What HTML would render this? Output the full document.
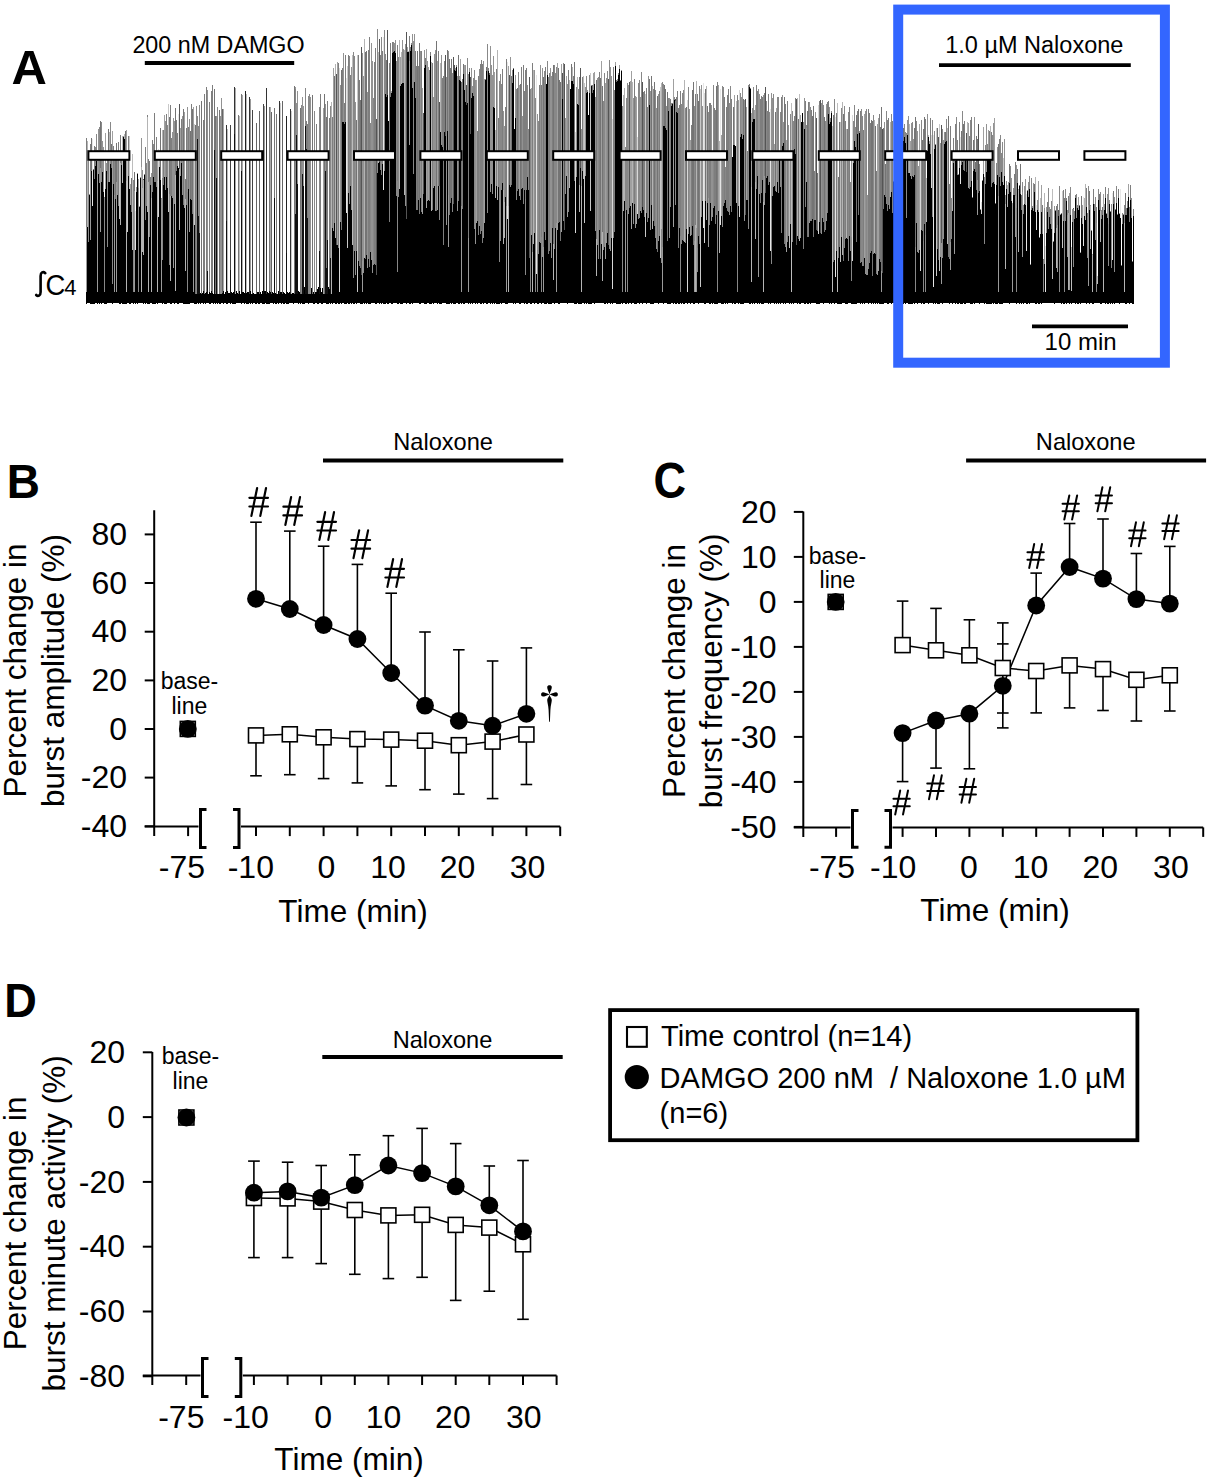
<!DOCTYPE html>
<html><head><meta charset="utf-8"><style>
html,body{margin:0;padding:0;background:#fff;}
svg{display:block;font-family:"Liberation Sans",sans-serif;}
</style></head><body>
<svg width="1210" height="1480" viewBox="0 0 1210 1480">
<rect width="1210" height="1480" fill="#fff"/>
<g shape-rendering="crispEdges"><path d="M223.5 109.4V294.0M235.5 87.6V294.0M242.5 95.3V294.0M270.5 107.3V294.0" stroke="#aaaaaa" stroke-width="1" fill="none"/><path d="M227.5 128.5V294.0M239.5 116.1V294.0M246.5 94.0V294.0" stroke="#bbbbbb" stroke-width="1" fill="none"/><path d="M250.5 99.4V294.0M264.5 106.1V294.0M295.5 87.3V294.0" stroke="#999999" stroke-width="1" fill="none"/><path d="M280.5 103.1V294.0M291.5 110.9V294.0" stroke="#cccccc" stroke-width="1" fill="none"/><path d="M86.5 137.7V227.2M90.5 143.9V171.0M94.5 146.3V178.5M104.5 197.2V198.2M107.5 154.1V173.9M113.5 145.6V183.9M118.5 142.3V206.3M120.5 135.1V163.2M121.5 154.6V164.7M128.5 135.9V175.9M144.5 173.5V174.5M145.5 146.5V220.2M147.5 115.1V117.1M148.5 158.9V181.9M149.5 160.8V180.8M150.5 177.1V185.3M152.5 140.2V192.4M154.5 113.0V181.5M155.5 152.4V181.7M156.5 136.6V187.4M163.5 130.1V184.5M166.5 114.2V177.0M170.5 104.6V196.2M171.5 137.6V196.4M176.5 119.6V170.8M177.5 132.7V165.8M181.5 119.2V163.4M185.5 179.1V198.6M186.5 128.0V204.6M188.5 126.9V189.2M191.5 104.2V200.1M203.5 119.6V294.0M204.5 94.0V294.0M206.5 86.8V294.0M209.5 101.6V294.0M211.5 90.5V294.0M212.5 85.3V294.0M306.5 121.2V149.3M307.5 123.5V217.6M316.5 123.8V294.0M320.5 93.6V294.0M327.5 101.0V240.1M329.5 117.5V294.0M332.5 117.0V227.8M338.5 63.2V247.6M342.5 68.2V122.4M344.5 102.5V123.5M345.5 54.5V122.0M348.5 54.6V192.8M350.5 74.7V186.2M358.5 55.1V260.5M359.5 79.7V266.2M368.5 49.8V259.3M369.5 36.5V266.7M374.5 62.2V263.7M375.5 47.5V265.0M380.5 54.7V169.5M382.5 51.3V163.9M389.5 63.0V222.3M390.5 42.6V96.9M392.5 41.7V53.1M397.5 44.5V180.9M409.5 36.2V61.3M410.5 47.2V50.9M415.5 50.6V97.5M416.5 66.4V209.9M418.5 65.6V199.8M421.5 51.2V212.1M425.5 58.4V65.3M429.5 69.8V201.3M430.5 52.2V56.3M432.5 63.4V209.8M438.5 50.9V186.3M442.5 77.9V146.5M443.5 75.5V244.8M444.5 61.1V131.9M462.5 78.5V209.4M468.5 73.9V238.4M477.5 131.0V221.1M478.5 75.9V234.6M480.5 64.3V234.0M481.5 59.9V230.7M482.5 63.8V242.5M488.5 67.8V71.1M496.5 68.9V186.3M498.5 117.5V187.0M502.5 68.5V182.7M505.5 107.4V197.3M506.5 59.1V206.2M521.5 67.3V188.7M523.5 65.2V203.7M524.5 90.8V190.2M525.5 69.8V199.3M526.5 68.1V190.4M532.5 63.2V252.2M539.5 85.0V242.4M541.5 84.6V237.2M545.5 67.2V239.9M548.5 76.7V254.1M549.5 73.3V251.3M552.5 71.6V227.9M568.5 70.2V187.3M573.5 76.2V84.3M582.5 77.2V171.3M599.5 71.7V230.0M613.5 67.0V237.5M614.5 89.7V232.2M620.5 79.5V81.1M634.5 78.6V204.0M643.5 92.3V209.9M644.5 91.1V216.8M646.5 87.8V212.7M647.5 106.7V221.5M659.5 90.6V236.1M670.5 98.9V207.3M672.5 103.2V104.2M676.5 97.1V112.0M677.5 90.9V112.5M678.5 107.7V248.2M679.5 104.7V227.8M680.5 90.5V235.5M691.5 124.6V234.6M695.5 94.1V225.1M697.5 93.9V247.6M699.5 85.7V243.6M709.5 103.1V224.8M710.5 103.3V203.4M714.5 107.5V206.4M715.5 109.7V223.7M717.5 82.3V217.4M724.5 97.3V203.3M726.5 107.4V207.8M727.5 95.4V210.7M728.5 88.6V211.9M731.5 99.1V212.0M737.5 95.2V219.3M747.5 151.1V199.8M749.5 83.9V87.1M750.5 88.1V89.1M756.5 85.4V189.1M757.5 91.1V175.7M760.5 98.9V202.8M761.5 96.4V192.6M762.5 96.7V180.1M764.5 92.8V175.5M767.5 110.9V175.6M768.5 94.2V184.5M781.5 96.7V233.1M785.5 104.0V246.8M787.5 101.1V242.4M794.5 116.0V149.4M795.5 98.4V153.7M803.5 121.6V248.5M805.5 100.9V207.2M808.5 101.5V237.3M811.5 109.8V220.7M814.5 170.8V220.3M819.5 100.8V221.8M827.5 102.1V212.8M828.5 101.0V114.3M830.5 117.8V121.6M836.5 113.4V250.5M845.5 120.5V239.1M847.5 128.5V239.1M849.5 107.3V236.3M857.5 110.5V133.9M860.5 111.3V263.2M863.5 129.6V265.8M868.5 109.0V269.3M869.5 113.1V263.1M870.5 122.7V253.3M876.5 170.5V273.9M879.5 113.9V259.2M887.5 120.4V210.5M888.5 118.3V205.0M892.5 120.5V213.4M893.5 180.6V181.6M896.5 164.1V168.8M897.5 116.9V180.4M898.5 138.3V169.2M901.5 134.4V155.8M923.5 128.5V240.6M925.5 118.6V235.4M930.5 118.3V154.1M949.5 183.5V258.6M950.5 125.5V241.7M953.5 137.8V163.0M955.5 124.1V160.5M957.5 139.7V174.6M959.5 121.7V168.0M964.5 120.7V171.4M965.5 152.2V153.2M969.5 135.5V188.6M971.5 116.7V181.2M972.5 196.6V197.6M979.5 164.2V190.9M989.5 131.4V160.0M991.5 132.1V187.1M999.5 138.9V177.1M1014.5 173.8V194.5M1015.5 162.4V196.4M1017.5 169.2V182.7M1027.5 190.3V191.3M1039.5 237.0V238.0M1042.5 204.6V233.8M1043.5 258.7V259.7M1050.5 208.5V223.6M1056.5 205.8V228.0M1057.5 204.0V224.7M1063.5 190.0V220.5M1064.5 198.0V216.6M1066.5 197.7V200.6M1068.5 195.6V213.3M1074.5 210.6V219.3M1075.5 194.8V197.8M1077.5 205.2V208.1M1079.5 205.4V206.4M1086.5 188.4V206.6M1087.5 212.5V216.6M1093.5 189.3V203.5M1094.5 204.4V211.2M1096.5 206.6V223.3M1105.5 186.8V198.2M1110.5 211.1V212.1M1115.5 208.7V209.7M1117.5 213.5V214.5M1118.5 189.1V198.0M1121.5 264.5V265.5M1126.5 208.1V214.7M1127.5 201.1V208.4M1129.5 206.7V221.8M1130.5 185.3V199.8M1132.5 260.8V261.8M1133.5 209.1V216.3" stroke="#7e7e7e" stroke-width="1" fill="none"/><path d="M86.5 227.2V292.0M90.5 171.0V239.7M97.5 159.5V292.0M100.5 167.9V232.1M114.5 195.0V292.0M116.5 181.7V292.0M134.5 190.5V292.0M161.5 199.2V292.0M173.5 196.3V267.5M189.5 190.9V231.9M193.5 212.1V292.0M362.5 260.6V291.5M409.5 61.3V144.9M448.5 195.2V247.4M461.5 206.1V292.0M468.5 238.4V292.0M506.5 206.2V292.0M543.5 247.1V292.0M556.5 223.3V292.0M567.5 172.6V216.5M625.5 213.1V292.0M662.5 247.4V292.0M694.5 240.7V292.0M696.5 228.2V292.0M708.5 197.7V247.0M758.5 184.2V277.3M764.5 175.5V204.5M806.5 128.3V182.3M881.5 270.8V292.0M901.5 155.8V202.2M941.5 243.1V284.2M950.5 241.7V270.3M954.5 154.2V253.5M977.5 180.3V214.9M998.5 195.8V292.0M1012.5 203.9V292.0M1015.5 196.4V236.9M1022.5 192.4V256.7M1057.5 224.7V272.4M1067.5 215.4V257.0M1069.5 212.5V289.7M1088.5 205.4V286.1" stroke="#9a9a9a" stroke-width="1" fill="none"/><path d="M86.5 292.0V303.9M87.5 226.8V303.3M88.5 241.7V303.3M89.5 195.4V303.3M90.5 239.7V303.9M91.5 170.5V303.8M92.5 206.3V303.6M93.5 169.6V303.6M94.5 178.5V303.6M95.5 165.6V303.4M96.5 161.1V302.8M97.5 292.0V303.7M98.5 174.0V303.3M99.5 183.2V303.9M100.5 232.1V302.9M101.5 182.0V303.9M102.5 172.4V303.4M103.5 191.6V303.1M104.5 292.0V303.6M105.5 188.6V303.7M106.5 171.4V303.5M107.5 246.6V302.8M108.5 182.3V303.1M109.5 182.1V303.4M110.5 163.8V303.3M111.5 167.7V303.1M112.5 283.6V303.7M113.5 183.9V303.3M114.5 292.0V303.3M115.5 198.6V303.4M116.5 292.0V303.1M117.5 195.2V303.4M118.5 206.3V302.9M119.5 219.0V303.7M120.5 225.1V303.7M121.5 164.7V303.4M122.5 183.1V304.0M123.5 136.9V303.9M124.5 138.9V303.7M125.5 156.0V303.5M126.5 292.0V304.0M127.5 231.9V302.8M128.5 175.9V303.2M129.5 189.0V303.7M130.5 204.7V303.6M131.5 211.5V302.8M132.5 250.2V303.2M133.5 292.0V303.6M134.5 292.0V303.4M135.5 249.9V303.9M136.5 191.8V303.1M137.5 173.8V303.5M138.5 292.0V303.2M139.5 206.5V303.2M140.5 177.8V303.4M141.5 292.0V303.4M142.5 251.6V303.2M143.5 254.6V303.7M144.5 174.5V302.9M145.5 220.2V303.7M146.5 206.0V303.2M147.5 212.1V303.9M148.5 292.0V303.6M149.5 237.1V303.7M150.5 185.3V302.9M151.5 292.0V303.3M152.5 192.4V303.7M153.5 177.2V303.9M154.5 181.5V303.5M155.5 181.7V303.8M156.5 187.4V303.4M157.5 292.0V303.5M158.5 216.7V303.1M159.5 167.2V303.4M160.5 179.6V303.2M161.5 292.0V303.2M162.5 259.7V304.0M163.5 184.5V303.3M164.5 176.7V303.9M165.5 189.8V303.5M166.5 177.0V303.8M167.5 188.3V303.4M168.5 211.6V303.1M169.5 264.9V302.9M170.5 281.0V303.5M171.5 196.4V303.9M172.5 198.4V303.2M173.5 267.5V302.9M174.5 203.5V303.7M175.5 291.0V302.9M176.5 170.8V303.1M177.5 165.8V303.9M178.5 167.6V303.5M179.5 229.9V303.3M180.5 175.9V303.3M181.5 163.4V303.3M182.5 195.2V302.8M183.5 205.2V303.9M184.5 207.9V303.7M185.5 271.2V304.0M186.5 204.6V303.9M187.5 292.0V303.8M188.5 189.2V303.6M189.5 231.9V303.5M190.5 198.8V303.2M191.5 200.1V302.9M192.5 214.0V302.8M193.5 292.0V303.3M194.5 225.0V303.9M195.5 291.7V304.0M196.5 293.1V303.5M197.5 292.1V303.4M198.5 293.7V303.8M199.5 293.8V303.1M200.5 292.5V303.9M201.5 291.0V303.1M202.5 293.4V302.8M203.5 291.2V303.9M204.5 293.6V303.4M205.5 293.4V303.7M206.5 292.0V302.9M207.5 292.3V303.3M208.5 293.7V302.8M209.5 292.3V303.6M210.5 292.7V303.8M211.5 291.0V303.3M212.5 292.7V303.4M213.5 293.6V303.7M214.5 292.2V303.3M215.5 293.3V303.8M216.5 294.0V303.2M217.5 291.8V303.7M218.5 293.9V303.4M219.5 291.2V303.8M220.5 293.5V303.6M221.5 294.0V303.0M222.5 291.3V302.9M223.5 291.2V303.7M224.5 293.8V303.2M225.5 292.0V303.2M226.5 293.4V303.8M227.5 291.3V303.8M228.5 292.8V303.3M229.5 292.9V303.0M230.5 291.4V303.5M231.5 291.8V303.3M232.5 293.1V303.7M233.5 292.1V303.9M234.5 292.1V303.9M235.5 293.8V303.9M236.5 291.4V303.1M237.5 293.4V302.9M238.5 293.9V302.9M239.5 291.3V303.1M240.5 293.7V303.1M241.5 291.2V303.9M242.5 291.7V302.9M243.5 291.7V303.3M244.5 292.6V303.7M245.5 291.5V303.3M246.5 293.1V303.5M247.5 292.4V303.7M248.5 291.7V303.9M249.5 293.5V303.0M250.5 291.2V303.7M251.5 293.5V302.9M252.5 292.9V303.5M253.5 292.8V302.9M254.5 293.7V302.9M255.5 293.9V303.8M256.5 291.2V303.8M257.5 292.2V303.2M258.5 292.2V304.0M259.5 293.5V303.5M260.5 291.7V303.3M261.5 293.6V303.4M262.5 291.3V303.7M263.5 293.0V303.7M264.5 291.1V303.7M265.5 291.1V302.8M266.5 292.7V303.8M267.5 292.1V303.9M268.5 293.4V303.5M269.5 292.2V303.5M270.5 291.8V302.9M271.5 292.0V302.9M272.5 292.1V303.3M273.5 293.3V303.8M274.5 291.9V303.2M275.5 293.2V303.5M276.5 291.3V303.6M277.5 294.0V303.0M278.5 291.3V303.9M279.5 291.8V303.4M280.5 292.1V303.0M281.5 292.4V303.5M282.5 291.8V303.3M283.5 292.1V303.7M284.5 292.9V303.9M285.5 293.8V302.9M286.5 292.4V303.7M287.5 291.6V303.5M288.5 293.4V303.8M289.5 291.7V303.0M290.5 293.1V303.3M291.5 293.6V303.0M292.5 292.9V303.0M293.5 293.2V303.5M294.5 292.5V303.3M295.5 293.0V302.9M296.5 293.1V303.3M297.5 292.4V303.3M298.5 291.1V303.9M299.5 292.4V303.2M300.5 292.0V303.9M301.5 286.6V303.2M302.5 289.0V303.6M303.5 291.9V303.9M304.5 287.1V303.9M305.5 290.0V303.1M306.5 289.9V303.4M307.5 290.8V303.1M308.5 288.6V303.5M309.5 289.0V303.3M310.5 291.8V303.2M311.5 288.0V303.0M312.5 290.1V303.1M313.5 291.8V304.0M314.5 287.4V303.5M315.5 291.6V303.2M316.5 291.5V303.4M317.5 289.4V304.0M318.5 286.8V303.7M319.5 289.8V303.1M320.5 288.0V302.9M321.5 291.8V303.9M322.5 288.3V303.5M323.5 286.3V303.1M324.5 287.2V303.4M325.5 288.1V303.0M326.5 286.1V303.7M327.5 290.4V303.8M328.5 287.3V303.7M329.5 288.7V303.1M330.5 286.1V303.6M331.5 289.7V303.4M332.5 227.8V303.8M333.5 230.8V302.9M334.5 222.5V303.3M335.5 237.6V303.9M336.5 245.3V304.0M337.5 245.4V302.9M338.5 247.6V303.6M339.5 292.0V303.9M340.5 221.7V303.2M341.5 229.7V303.8M342.5 122.4V303.0M343.5 122.1V302.9M344.5 123.5V303.7M345.5 122.0V303.5M346.5 212.5V303.8M347.5 248.0V303.0M348.5 192.8V303.5M349.5 204.2V303.5M350.5 186.2V303.0M351.5 209.9V303.8M352.5 244.7V302.9M353.5 278.4V303.8M354.5 251.1V303.6M355.5 274.9V303.3M356.5 250.8V303.9M357.5 292.0V303.0M358.5 260.5V303.4M359.5 266.2V303.4M360.5 267.9V303.9M361.5 275.3V303.5M362.5 291.5V303.9M363.5 273.3V302.9M364.5 258.2V303.7M365.5 259.2V302.9M366.5 254.5V303.5M367.5 268.3V303.1M368.5 259.3V303.5M369.5 266.7V303.6M370.5 251.9V303.9M371.5 260.1V303.0M372.5 272.8V302.9M373.5 264.9V303.1M374.5 263.7V303.3M375.5 265.0V303.8M376.5 275.3V303.5M377.5 172.6V303.4M378.5 162.8V303.4M379.5 162.2V303.5M380.5 169.5V303.0M381.5 174.7V303.7M382.5 163.9V303.2M383.5 189.6V303.9M384.5 171.1V303.8M385.5 93.5V303.5M386.5 96.8V303.0M387.5 95.0V303.5M388.5 121.1V303.6M389.5 222.3V303.1M390.5 96.9V302.8M391.5 93.3V303.7M392.5 53.1V303.8M393.5 51.6V303.0M394.5 50.7V303.3M395.5 53.4V302.9M396.5 196.0V303.1M397.5 271.9V303.8M398.5 196.9V303.9M399.5 188.5V302.9M400.5 86.1V304.0M401.5 84.4V303.9M402.5 83.3V303.5M403.5 82.9V303.3M404.5 194.9V303.3M405.5 206.3V303.2M406.5 218.8V303.7M407.5 52.1V303.4M408.5 52.3V303.3M409.5 144.9V303.8M410.5 50.9V303.8M411.5 45.4V303.0M412.5 87.6V303.9M413.5 173.9V303.3M414.5 82.2V302.9M415.5 97.5V303.2M416.5 209.9V303.0M417.5 209.9V303.2M418.5 199.8V303.3M419.5 214.1V303.8M420.5 197.8V303.5M421.5 212.1V303.3M422.5 214.1V302.8M423.5 193.9V303.2M424.5 67.6V303.8M425.5 65.3V303.5M426.5 207.5V303.8M427.5 201.2V303.3M428.5 200.1V303.2M429.5 201.3V303.9M430.5 56.3V303.6M431.5 211.2V303.8M432.5 209.8V302.9M433.5 188.4V303.8M434.5 185.6V303.3M435.5 211.3V302.9M436.5 211.2V303.0M437.5 210.4V303.9M438.5 186.3V303.3M439.5 220.2V303.8M440.5 131.8V303.9M441.5 144.9V303.9M442.5 146.5V303.2M443.5 244.8V303.2M444.5 131.9V303.2M445.5 136.1V303.1M446.5 224.6V304.0M447.5 131.0V303.9M448.5 247.4V303.7M449.5 215.4V303.9M450.5 202.7V303.3M451.5 197.8V303.9M452.5 211.6V303.1M453.5 204.3V303.7M454.5 69.8V303.8M455.5 70.6V303.9M456.5 66.5V303.1M457.5 210.9V303.0M458.5 201.4V304.0M459.5 79.5V304.0M460.5 80.5V302.8M461.5 292.0V303.8M462.5 209.4V303.0M463.5 74.2V303.8M464.5 90.4V304.0M465.5 102.2V303.1M466.5 104.5V303.4M467.5 102.6V302.8M468.5 292.0V303.7M469.5 72.2V303.3M470.5 134.4V303.5M471.5 98.0V303.1M472.5 92.6V304.0M473.5 96.2V303.2M474.5 229.1V303.0M475.5 244.3V303.9M476.5 222.9V303.3M477.5 221.1V303.8M478.5 234.6V303.0M479.5 225.9V303.2M480.5 234.0V304.0M481.5 230.7V304.0M482.5 242.5V303.4M483.5 238.4V303.9M484.5 222.7V303.3M485.5 79.9V302.9M486.5 70.7V303.8M487.5 213.2V303.9M488.5 71.1V303.3M489.5 74.5V303.4M490.5 191.8V303.7M491.5 184.0V303.2M492.5 193.7V304.0M493.5 106.6V303.0M494.5 107.5V303.9M495.5 197.9V303.0M496.5 186.3V303.8M497.5 199.8V303.8M498.5 187.0V303.8M499.5 262.0V303.7M500.5 240.7V302.9M501.5 190.4V303.9M502.5 182.7V303.0M503.5 243.6V303.4M504.5 237.8V303.4M505.5 197.3V303.8M506.5 292.0V303.8M507.5 219.1V303.8M508.5 292.0V303.0M509.5 185.1V303.3M510.5 186.5V303.0M511.5 185.2V303.3M512.5 82.8V303.0M513.5 69.3V303.6M514.5 129.4V303.1M515.5 118.4V303.8M516.5 200.0V303.0M517.5 191.0V303.1M518.5 188.7V303.2M519.5 195.5V303.9M520.5 200.1V304.0M521.5 188.7V303.0M522.5 188.3V303.2M523.5 203.7V303.3M524.5 190.2V303.8M525.5 274.5V303.2M526.5 190.4V303.6M527.5 176.8V304.0M528.5 190.4V302.9M529.5 257.5V303.3M530.5 292.0V303.5M531.5 234.9V303.6M532.5 292.0V303.1M533.5 244.2V303.2M534.5 233.4V303.5M535.5 292.0V302.9M536.5 274.4V302.9M537.5 292.0V303.8M538.5 253.7V303.6M539.5 242.4V303.2M540.5 243.0V303.2M541.5 292.0V303.5M542.5 256.9V303.4M543.5 292.0V303.0M544.5 231.8V304.0M545.5 239.9V303.7M546.5 84.2V303.5M547.5 74.9V303.4M548.5 254.1V303.9M549.5 251.3V303.5M550.5 243.2V303.7M551.5 258.4V303.9M552.5 227.9V302.8M553.5 279.5V303.4M554.5 249.3V303.5M555.5 228.3V303.1M556.5 292.0V303.4M557.5 229.7V303.2M558.5 223.1V303.5M559.5 222.0V303.5M560.5 240.8V303.3M561.5 231.8V303.1M562.5 98.7V303.1M563.5 221.2V303.1M564.5 229.7V302.9M565.5 193.8V303.3M566.5 175.6V303.2M567.5 216.5V303.9M568.5 211.6V303.2M569.5 188.3V303.0M570.5 89.4V303.0M571.5 81.3V303.1M572.5 80.7V303.2M573.5 84.3V303.0M574.5 180.7V303.7M575.5 233.0V303.8M576.5 177.2V303.9M577.5 104.3V303.3M578.5 105.3V303.6M579.5 211.5V303.6M580.5 168.4V303.7M581.5 292.0V303.6M582.5 171.3V303.0M583.5 178.7V302.8M584.5 223.1V303.6M585.5 176.1V302.9M586.5 93.0V303.6M587.5 92.0V303.0M588.5 115.4V303.9M589.5 93.1V303.9M590.5 210.7V303.7M591.5 86.4V303.9M592.5 93.1V303.1M593.5 89.6V303.2M594.5 84.3V303.9M595.5 230.5V303.0M596.5 275.9V302.9M597.5 244.8V303.0M598.5 258.8V303.2M599.5 230.0V303.3M600.5 258.8V303.3M601.5 243.6V303.0M602.5 280.5V303.1M603.5 249.9V303.4M604.5 246.7V303.5M605.5 258.7V303.9M606.5 243.3V302.9M607.5 232.7V303.8M608.5 244.8V302.9M609.5 249.4V303.3M610.5 250.8V303.9M611.5 237.5V303.0M612.5 288.7V303.5M613.5 237.5V303.1M614.5 232.2V303.0M615.5 66.0V303.4M616.5 81.8V303.9M617.5 81.3V304.0M618.5 75.0V304.0M619.5 68.7V303.9M620.5 81.1V303.6M621.5 70.8V303.0M622.5 292.0V303.7M623.5 211.2V303.3M624.5 201.1V303.4M625.5 292.0V304.0M626.5 209.5V303.7M627.5 292.0V302.9M628.5 214.0V303.8M629.5 207.7V303.0M630.5 205.6V303.3M631.5 228.6V303.7M632.5 203.3V303.2M633.5 224.1V303.0M634.5 204.0V303.6M635.5 228.1V303.9M636.5 223.5V303.6M637.5 214.0V303.4M638.5 219.0V303.1M639.5 217.6V303.5M640.5 210.9V302.9M641.5 212.9V303.1M642.5 206.6V303.5M643.5 209.9V303.4M644.5 216.8V303.3M645.5 236.9V302.9M646.5 212.7V303.5M647.5 221.5V303.4M648.5 217.6V303.1M649.5 104.6V303.0M650.5 229.9V303.8M651.5 204.9V303.6M652.5 229.2V303.8M653.5 221.0V303.5M654.5 225.9V303.1M655.5 238.0V303.1M656.5 248.7V302.9M657.5 251.9V303.4M658.5 241.0V303.6M659.5 236.1V303.4M660.5 258.3V303.1M661.5 263.1V302.9M662.5 292.0V303.3M663.5 125.7V303.9M664.5 125.9V303.0M665.5 127.6V303.2M666.5 129.5V303.2M667.5 241.4V304.0M668.5 110.7V303.8M669.5 238.0V303.5M670.5 207.3V303.7M671.5 106.2V302.9M672.5 104.2V303.2M673.5 227.3V303.9M674.5 100.2V303.4M675.5 205.0V303.6M676.5 112.0V303.5M677.5 112.5V303.3M678.5 248.2V303.7M679.5 227.8V303.9M680.5 292.0V303.4M681.5 243.5V303.8M682.5 239.6V302.9M683.5 240.5V303.6M684.5 241.9V303.6M685.5 243.1V302.8M686.5 229.2V303.2M687.5 292.0V303.9M688.5 233.5V303.3M689.5 226.6V303.2M690.5 235.7V303.5M691.5 234.6V302.9M692.5 226.3V303.3M693.5 244.8V304.0M694.5 292.0V303.5M695.5 292.0V303.1M696.5 292.0V303.3M697.5 272.3V303.1M698.5 236.0V304.0M699.5 243.6V303.2M700.5 287.1V302.9M701.5 217.1V302.9M702.5 200.8V302.8M703.5 227.5V303.2M704.5 242.8V303.5M705.5 200.5V303.8M706.5 219.5V302.9M707.5 203.1V303.3M708.5 247.0V303.1M709.5 224.8V303.5M710.5 203.4V303.6M711.5 220.5V303.2M712.5 217.1V303.6M713.5 208.1V302.9M714.5 206.4V303.7M715.5 223.7V303.6M716.5 214.9V303.5M717.5 292.0V303.7M718.5 211.1V303.3M719.5 253.0V302.8M720.5 224.5V303.1M721.5 215.7V303.5M722.5 226.8V304.0M723.5 205.7V303.8M724.5 203.3V303.3M725.5 200.4V303.6M726.5 207.8V303.2M727.5 210.7V304.0M728.5 211.9V303.2M729.5 215.4V303.3M730.5 206.3V303.1M731.5 212.0V302.8M732.5 157.3V303.7M733.5 144.7V302.9M734.5 144.8V303.8M735.5 145.8V303.9M736.5 203.4V302.8M737.5 292.0V303.4M738.5 206.3V303.7M739.5 217.2V302.9M740.5 137.1V303.8M741.5 133.8V303.5M742.5 138.5V303.7M743.5 134.9V303.7M744.5 221.2V303.3M745.5 215.2V303.4M746.5 199.7V303.2M747.5 199.8V303.4M748.5 229.1V302.8M749.5 87.1V303.7M750.5 89.1V304.0M751.5 282.4V303.2M752.5 122.2V303.6M753.5 119.2V303.1M754.5 119.0V303.5M755.5 239.2V302.8M756.5 189.1V303.1M757.5 175.7V303.6M758.5 277.3V302.8M759.5 193.5V303.9M760.5 202.8V303.1M761.5 192.6V303.8M762.5 180.1V303.9M763.5 292.0V303.6M764.5 204.5V303.3M765.5 192.6V302.8M766.5 178.4V303.0M767.5 175.6V303.2M768.5 184.5V303.7M769.5 182.2V303.0M770.5 251.1V303.8M771.5 264.0V303.4M772.5 195.6V302.8M773.5 186.7V303.3M774.5 185.8V303.6M775.5 191.4V303.4M776.5 191.5V303.7M777.5 181.6V303.1M778.5 192.8V303.9M779.5 156.1V303.2M780.5 187.0V303.8M781.5 233.1V303.2M782.5 145.9V303.2M783.5 143.1V303.6M784.5 243.5V303.4M785.5 246.8V303.8M786.5 251.6V303.3M787.5 242.4V302.8M788.5 235.7V303.0M789.5 247.8V303.9M790.5 223.7V303.0M791.5 292.0V303.7M792.5 241.5V303.3M793.5 152.9V303.8M794.5 149.4V303.2M795.5 153.7V302.9M796.5 245.4V303.3M797.5 236.2V303.5M798.5 238.8V303.0M799.5 240.8V303.6M800.5 238.2V303.7M801.5 122.2V303.1M802.5 113.0V303.0M803.5 248.5V303.3M804.5 128.5V303.6M805.5 207.2V303.8M806.5 182.3V303.3M807.5 236.5V303.6M808.5 237.3V303.9M809.5 222.9V303.4M810.5 221.3V303.9M811.5 220.7V303.1M812.5 218.6V303.0M813.5 237.2V303.1M814.5 220.3V303.2M815.5 220.3V302.9M816.5 229.8V303.5M817.5 230.8V303.9M818.5 233.6V303.8M819.5 221.8V303.9M820.5 232.8V303.4M821.5 233.8V303.1M822.5 218.1V303.3M823.5 222.2V303.7M824.5 231.9V303.3M825.5 230.4V303.3M826.5 220.8V303.2M827.5 212.8V302.8M828.5 114.3V302.8M829.5 123.8V303.6M830.5 121.6V303.1M831.5 113.3V303.9M832.5 292.0V303.1M833.5 261.6V302.9M834.5 260.0V303.8M835.5 277.3V303.4M836.5 250.5V303.3M837.5 292.0V303.8M838.5 257.5V303.9M839.5 247.3V303.5M840.5 262.0V303.8M841.5 236.9V303.9M842.5 254.8V303.3M843.5 260.9V303.2M844.5 248.0V303.4M845.5 239.1V303.5M846.5 237.6V303.9M847.5 239.1V303.9M848.5 261.3V303.2M849.5 236.3V302.9M850.5 250.6V303.2M851.5 280.6V303.6M852.5 261.4V303.5M853.5 162.7V303.6M854.5 141.0V303.7M855.5 146.7V303.9M856.5 242.0V303.5M857.5 133.9V303.0M858.5 214.7V303.3M859.5 133.1V303.3M860.5 263.2V303.8M861.5 262.1V302.9M862.5 265.8V303.8M863.5 265.8V303.2M864.5 257.8V303.6M865.5 273.7V303.2M866.5 274.7V302.8M867.5 275.4V302.9M868.5 269.3V303.9M869.5 263.1V303.2M870.5 253.3V303.4M871.5 251.3V303.8M872.5 275.5V303.0M873.5 254.0V303.5M874.5 252.6V302.9M875.5 253.5V303.6M876.5 273.9V303.1M877.5 275.0V303.6M878.5 270.8V303.3M879.5 259.2V304.0M880.5 262.3V303.9M881.5 292.0V303.5M882.5 272.8V304.0M883.5 208.5V303.8M884.5 194.9V303.2M885.5 196.9V302.9M886.5 204.4V302.9M887.5 210.5V303.5M888.5 205.0V303.6M889.5 208.6V303.3M890.5 197.0V303.2M891.5 191.9V303.6M892.5 213.4V303.0M893.5 181.6V303.4M894.5 164.9V303.2M895.5 172.3V304.0M896.5 168.8V303.7M897.5 180.4V303.1M898.5 169.2V303.3M899.5 156.7V303.5M900.5 179.7V303.3M901.5 202.2V303.3M902.5 199.1V303.6M903.5 140.9V303.5M904.5 137.2V303.2M905.5 142.9V303.7M906.5 217.6V303.0M907.5 134.5V303.2M908.5 172.7V303.6M909.5 173.1V303.8M910.5 176.4V303.9M911.5 178.7V303.6M912.5 176.4V303.8M913.5 177.1V303.0M914.5 175.0V303.5M915.5 292.0V303.4M916.5 223.1V303.0M917.5 251.9V303.6M918.5 252.9V303.1M919.5 249.6V303.3M920.5 270.6V303.3M921.5 229.8V303.8M922.5 230.9V303.4M923.5 292.0V303.8M924.5 223.6V303.5M925.5 292.0V303.3M926.5 221.8V302.8M927.5 151.2V303.3M928.5 137.3V303.7M929.5 143.5V303.2M930.5 154.1V303.4M931.5 188.1V302.8M932.5 216.8V302.8M933.5 287.3V303.7M934.5 149.2V303.1M935.5 144.9V304.0M936.5 275.9V302.8M937.5 248.8V303.8M938.5 259.6V303.7M939.5 270.6V304.0M940.5 257.4V302.9M941.5 284.2V302.8M942.5 258.0V303.9M943.5 238.8V303.4M944.5 143.7V303.4M945.5 141.7V303.0M946.5 141.2V303.4M947.5 244.3V302.8M948.5 257.3V302.8M949.5 258.6V304.0M950.5 270.3V303.1M951.5 238.8V303.0M952.5 211.1V303.9M953.5 163.0V303.3M954.5 253.5V303.3M955.5 160.5V303.9M956.5 155.7V303.3M957.5 174.6V303.6M958.5 174.6V303.7M959.5 168.0V303.0M960.5 184.2V303.5M961.5 165.4V303.7M962.5 161.6V303.7M963.5 169.5V303.3M964.5 171.4V303.5M965.5 153.2V303.9M966.5 172.4V302.8M967.5 155.8V303.1M968.5 187.6V302.9M969.5 188.6V302.8M970.5 186.9V303.6M971.5 181.2V303.5M972.5 197.6V303.6M973.5 171.2V303.2M974.5 168.9V303.5M975.5 172.3V302.8M976.5 190.4V303.3M977.5 214.9V303.4M978.5 193.1V303.4M979.5 190.9V303.9M980.5 209.9V303.0M981.5 214.1V303.1M982.5 180.8V303.0M983.5 173.6V303.1M984.5 244.1V303.9M985.5 184.0V302.9M986.5 172.4V303.9M987.5 159.6V303.9M988.5 159.3V303.9M989.5 160.0V303.6M990.5 160.1V303.7M991.5 187.1V303.6M992.5 182.5V303.1M993.5 181.9V303.9M994.5 184.3V302.9M995.5 204.2V303.9M996.5 184.7V303.8M997.5 175.1V303.8M998.5 292.0V303.3M999.5 177.1V303.7M1000.5 185.9V303.5M1001.5 172.3V303.7M1002.5 182.4V304.0M1003.5 184.9V302.8M1004.5 176.3V302.8M1005.5 269.3V303.2M1006.5 188.9V303.0M1007.5 207.2V303.0M1008.5 193.6V303.4M1009.5 182.9V303.7M1010.5 192.3V303.4M1011.5 200.7V303.1M1012.5 292.0V303.4M1013.5 195.4V303.0M1014.5 194.5V303.4M1015.5 236.9V302.9M1016.5 292.0V303.7M1017.5 182.7V303.3M1018.5 252.0V302.8M1019.5 185.9V303.7M1020.5 194.3V303.1M1021.5 210.2V303.9M1022.5 256.7V303.4M1023.5 213.5V303.8M1024.5 204.4V303.0M1025.5 205.0V303.1M1026.5 251.4V303.6M1027.5 191.3V303.7M1028.5 196.9V303.3M1029.5 189.4V303.7M1030.5 265.2V302.9M1031.5 210.1V303.0M1032.5 208.0V303.4M1033.5 211.4V303.3M1034.5 192.2V303.0M1035.5 212.0V303.5M1036.5 230.3V303.9M1037.5 209.6V302.9M1038.5 211.7V303.5M1039.5 238.0V303.6M1040.5 234.0V303.3M1041.5 211.6V303.9M1042.5 233.8V303.1M1043.5 292.0V302.9M1044.5 264.4V302.8M1045.5 292.0V303.3M1046.5 232.7V302.9M1047.5 212.1V303.4M1048.5 229.3V303.0M1049.5 217.0V303.2M1050.5 223.6V303.1M1051.5 229.2V303.0M1052.5 279.1V303.4M1053.5 241.5V302.8M1054.5 232.7V303.5M1055.5 211.3V303.4M1056.5 268.1V302.9M1057.5 272.4V303.1M1058.5 215.9V303.3M1059.5 292.0V303.1M1060.5 214.6V303.0M1061.5 213.8V303.6M1062.5 247.9V303.1M1063.5 220.5V304.0M1064.5 292.0V303.5M1065.5 221.4V303.1M1066.5 200.6V304.0M1067.5 257.0V303.1M1068.5 290.3V303.0M1069.5 289.7V303.8M1070.5 215.0V303.2M1071.5 291.4V303.9M1072.5 222.2V303.4M1073.5 267.3V303.2M1074.5 219.3V303.4M1075.5 197.8V303.9M1076.5 218.3V302.8M1077.5 208.1V303.9M1078.5 210.2V303.5M1079.5 206.4V303.1M1080.5 253.1V303.5M1081.5 218.3V303.3M1082.5 224.1V303.2M1083.5 245.6V302.9M1084.5 216.3V303.4M1085.5 219.7V303.1M1086.5 206.6V303.6M1087.5 257.9V303.4M1088.5 286.1V303.3M1089.5 210.4V303.6M1090.5 248.9V303.4M1091.5 231.2V302.9M1092.5 292.0V303.6M1093.5 203.5V303.9M1094.5 211.2V303.1M1095.5 240.0V302.9M1096.5 292.0V302.9M1097.5 283.7V303.3M1098.5 199.9V302.9M1099.5 210.1V303.4M1100.5 242.2V303.7M1101.5 218.5V303.6M1102.5 215.3V303.1M1103.5 292.0V302.8M1104.5 209.6V302.9M1105.5 198.2V303.8M1106.5 214.1V303.3M1107.5 217.6V303.8M1108.5 265.7V303.9M1109.5 204.3V303.2M1110.5 212.1V303.5M1111.5 267.6V303.0M1112.5 260.1V303.8M1113.5 203.7V303.2M1114.5 272.4V304.0M1115.5 209.7V303.2M1116.5 202.5V302.9M1117.5 214.5V302.9M1118.5 198.0V302.8M1119.5 214.3V303.8M1120.5 218.2V303.1M1121.5 265.5V303.0M1122.5 223.9V303.1M1123.5 214.5V303.1M1124.5 292.0V303.1M1125.5 215.2V303.6M1126.5 214.7V303.6M1127.5 208.4V303.0M1128.5 197.2V303.3M1129.5 221.8V303.5M1130.5 199.8V303.3M1131.5 218.1V303.1M1132.5 261.8V303.8M1133.5 216.3V304.0" stroke="#000" stroke-width="1" fill="none"/><path d="M87.5 140.5V226.8M109.5 132.0V182.1M120.5 163.2V225.1M124.5 133.8V138.9M126.5 181.0V292.0M141.5 167.2V292.0M142.5 188.0V251.6M143.5 179.8V254.6M147.5 117.1V212.1M148.5 181.9V292.0M151.5 198.2V292.0M157.5 180.9V292.0M159.5 160.1V167.2M162.5 129.8V178.0M170.5 196.2V281.0M175.5 175.0V291.0M179.5 168.6V229.9M185.5 198.6V271.2M331.5 101.7V294.0M335.5 63.8V237.6M364.5 39.4V258.2M378.5 51.5V162.8M399.5 40.3V188.5M401.5 52.1V84.4M404.5 49.9V194.9M408.5 51.3V52.3M431.5 62.2V211.2M440.5 62.9V131.8M495.5 130.1V197.9M497.5 49.8V199.8M503.5 190.3V243.6M504.5 201.7V237.8M508.5 206.1V292.0M532.5 252.2V292.0M533.5 69.8V244.2M553.5 244.1V279.5M569.5 80.0V188.3M572.5 66.8V80.7M577.5 77.4V104.3M579.5 184.7V211.5M581.5 185.7V292.0M596.5 239.4V275.9M602.5 231.5V280.5M623.5 94.5V211.2M624.5 88.1V201.1M632.5 82.0V203.3M652.5 86.1V229.2M661.5 83.2V228.7M684.5 79.9V241.9M695.5 225.1V292.0M696.5 81.2V228.2M706.5 86.1V219.5M719.5 140.5V210.2M719.5 210.2V253.0M736.5 100.7V203.4M751.5 187.4V282.4M755.5 182.4V239.2M763.5 202.3V292.0M797.5 98.3V236.2M842.5 101.8V254.8M846.5 129.3V237.6M874.5 119.5V252.6M890.5 121.9V197.0M909.5 123.8V173.1M926.5 177.5V221.8M928.5 135.1V137.3M947.5 128.1V244.3M952.5 157.8V211.1M967.5 122.4V155.8M990.5 126.4V160.1M1005.5 203.8V269.3M1007.5 184.9V207.2M1018.5 190.3V252.0M1035.5 177.0V212.0M1044.5 192.5V208.4M1056.5 228.0V268.1M1068.5 213.3V290.3M1084.5 198.3V216.3M1085.5 184.1V219.7M1090.5 206.0V248.9M1092.5 254.8V292.0M1100.5 211.0V242.2M1103.5 203.6V292.0M1124.5 222.6V292.0" stroke="#b4b4b4" stroke-width="1" fill="none"/><path d="M88.5 160.9V241.7M95.5 147.3V165.6M96.5 134.0V161.1M99.5 127.0V183.2M101.5 122.1V182.0M104.5 198.2V292.0M107.5 173.9V246.6M110.5 121.6V163.8M112.5 209.6V283.6M114.5 155.1V195.0M133.5 179.5V198.8M133.5 198.8V292.0M136.5 186.7V191.8M138.5 187.6V292.0M146.5 163.4V206.0M149.5 180.8V237.1M153.5 143.7V177.2M161.5 198.2V199.2M162.5 178.0V259.7M167.5 125.0V188.3M169.5 194.4V264.9M187.5 192.2V292.0M196.5 105.8V294.0M197.5 115.6V139.3M198.5 126.4V216.3M199.5 104.9V232.5M217.5 107.2V294.0M295.5 89.0V213.5M301.5 105.4V294.0M305.5 88.1V125.7M308.5 96.0V294.0M309.5 93.5V294.0M314.5 110.5V294.0M319.5 107.1V251.3M330.5 106.1V258.4M349.5 55.9V204.2M353.5 51.6V278.4M354.5 56.0V251.1M370.5 122.7V251.9M373.5 98.1V264.9M377.5 28.5V172.6M381.5 36.9V174.7M384.5 29.8V171.1M385.5 54.1V93.5M393.5 41.9V51.6M396.5 60.9V196.0M397.5 180.9V271.9M398.5 56.5V196.9M411.5 42.7V45.4M413.5 82.2V173.9M439.5 185.6V220.2M452.5 73.4V211.6M456.5 65.3V66.5M467.5 58.1V102.6M473.5 77.5V96.2M474.5 69.7V229.1M479.5 68.8V225.9M485.5 78.9V79.9M487.5 44.3V213.2M499.5 81.4V204.0M499.5 204.0V262.0M500.5 73.6V185.5M500.5 185.5V240.7M501.5 83.9V190.4M512.5 69.5V82.8M516.5 88.9V200.0M518.5 71.6V188.7M525.5 199.3V274.5M527.5 85.3V176.8M528.5 129.1V190.4M530.5 88.5V230.8M530.5 230.8V292.0M535.5 97.7V249.8M535.5 249.8V292.0M537.5 250.3V292.0M538.5 120.9V253.7M541.5 237.2V292.0M544.5 71.3V231.8M547.5 60.9V74.9M554.5 64.5V249.3M555.5 72.6V228.3M556.5 66.8V223.3M563.5 63.3V221.2M568.5 187.3V211.6M578.5 89.4V105.3M586.5 76.0V93.0M589.5 74.5V93.1M591.5 85.4V86.4M598.5 77.1V258.8M603.5 101.1V249.9M604.5 72.9V246.7M607.5 71.0V232.7M609.5 60.4V249.4M617.5 78.8V81.3M622.5 105.6V219.8M622.5 219.8V292.0M625.5 147.1V213.1M626.5 98.3V209.5M627.5 82.6V226.7M627.5 226.7V292.0M638.5 83.1V219.0M639.5 80.3V217.6M641.5 72.0V212.9M653.5 88.8V221.0M655.5 89.6V238.0M661.5 228.7V263.1M662.5 81.7V247.4M663.5 83.6V125.7M668.5 98.0V110.7M671.5 103.0V106.2M674.5 97.0V100.2M675.5 101.4V205.0M680.5 235.5V292.0M681.5 103.7V243.5M682.5 93.1V239.6M683.5 90.0V240.5M685.5 107.5V243.1M688.5 87.4V233.5M694.5 105.9V240.7M697.5 247.6V272.3M708.5 111.7V197.7M713.5 85.3V208.1M717.5 217.4V292.0M722.5 85.6V226.8M723.5 86.7V205.7M725.5 166.7V200.4M729.5 102.8V215.4M730.5 86.0V206.3M737.5 219.3V292.0M740.5 93.0V137.1M748.5 85.0V229.1M752.5 108.4V122.2M753.5 87.2V119.2M766.5 101.3V178.4M769.5 112.4V182.2M771.5 196.4V264.0M773.5 93.6V186.7M777.5 96.5V181.6M778.5 96.8V192.8M780.5 111.6V187.0M790.5 113.8V223.7M792.5 111.3V241.5M793.5 121.4V152.9M806.5 124.8V128.3M810.5 106.8V221.3M822.5 100.0V218.1M823.5 104.9V222.2M825.5 120.6V230.4M831.5 110.8V113.3M834.5 99.0V260.0M841.5 108.3V236.9M844.5 106.1V248.0M848.5 111.8V261.3M850.5 182.3V250.6M851.5 236.6V280.6M853.5 120.8V162.7M854.5 104.8V141.0M855.5 126.9V146.7M859.5 130.6V133.1M861.5 109.4V262.1M862.5 115.8V265.8M866.5 108.6V274.7M873.5 115.3V254.0M886.5 111.0V204.4M891.5 114.2V191.9M904.5 123.5V137.2M905.5 132.3V142.9M906.5 132.9V217.6M912.5 122.3V176.4M915.5 246.8V292.0M916.5 121.0V223.1M921.5 120.2V229.8M923.5 240.6V292.0M925.5 235.4V292.0M932.5 119.7V216.8M934.5 131.1V149.2M935.5 143.7V144.9M942.5 129.2V258.0M946.5 118.9V141.2M951.5 197.8V238.8M952.5 156.8V157.8M956.5 117.2V155.7M958.5 173.6V174.6M962.5 110.9V161.6M970.5 119.6V186.9M980.5 208.9V209.9M982.5 179.8V180.8M984.5 176.8V177.8M984.5 177.8V244.1M985.5 144.5V184.0M987.5 144.1V159.6M992.5 134.5V182.5M996.5 162.5V184.7M1000.5 134.8V185.9M1001.5 152.7V172.3M1002.5 141.6V182.4M1005.5 194.5V203.8M1006.5 180.5V188.9M1010.5 166.0V192.3M1013.5 187.7V195.4M1016.5 207.5V292.0M1022.5 181.8V192.4M1023.5 205.0V213.5M1029.5 176.3V189.4M1031.5 178.1V210.1M1032.5 205.8V208.0M1043.5 259.7V292.0M1044.5 208.4V264.4M1048.5 187.6V229.3M1049.5 206.5V217.0M1051.5 200.5V229.2M1053.5 240.5V241.5M1055.5 210.3V211.3M1059.5 185.5V224.4M1059.5 224.4V292.0M1064.5 216.6V292.0M1065.5 188.9V221.4M1067.5 209.7V215.4M1070.5 186.7V215.0M1073.5 209.2V267.3M1076.5 193.5V218.3M1087.5 216.6V257.9M1088.5 185.9V205.4M1091.5 230.2V231.2M1095.5 196.6V206.6M1095.5 206.6V240.0M1096.5 223.3V292.0M1098.5 188.6V199.9M1100.5 191.6V211.0M1101.5 210.3V218.5M1108.5 223.6V265.7M1111.5 203.6V209.1M1111.5 209.1V267.6M1114.5 203.3V272.4M1116.5 185.6V202.5M1122.5 213.1V223.9M1124.5 205.1V222.6M1131.5 197.9V218.1" stroke="#888888" stroke-width="1" fill="none"/><path d="M89.5 194.4V195.4M97.5 149.5V159.5M98.5 129.1V174.0M102.5 140.6V172.4M103.5 146.8V191.6M106.5 162.9V171.4M117.5 155.4V195.2M123.5 135.9V136.9M137.5 172.8V173.8M140.5 176.8V177.8M141.5 138.4V167.2M142.5 169.5V188.0M151.5 173.4V198.2M165.5 120.8V189.8M172.5 132.2V198.4M173.5 118.4V196.3M174.5 121.2V203.5M182.5 115.8V195.2M187.5 106.9V192.2M189.5 118.5V190.9M207.5 90.3V270.7M216.5 116.4V178.1M220.5 115.5V294.0M221.5 97.6V294.0M296.5 103.0V135.4M297.5 90.5V184.4M302.5 97.3V173.9M303.5 105.6V186.3M310.5 96.7V294.0M325.5 103.5V171.2M340.5 84.6V221.7M343.5 53.3V122.1M351.5 66.6V209.9M355.5 101.8V274.9M362.5 52.8V260.6M363.5 76.0V273.3M367.5 92.0V268.3M371.5 42.8V260.1M372.5 60.6V272.8M394.5 43.2V50.7M395.5 39.9V53.4M402.5 39.7V83.3M403.5 49.3V82.9M405.5 43.6V206.3M412.5 34.4V87.6M413.5 40.7V82.2M414.5 34.3V82.2M420.5 51.4V197.8M424.5 50.0V67.6M427.5 61.1V201.2M433.5 96.5V188.4M434.5 54.4V185.6M435.5 49.7V211.3M441.5 55.0V144.9M446.5 76.7V224.6M448.5 51.2V195.2M455.5 67.9V70.6M457.5 76.1V210.9M459.5 75.9V79.5M465.5 65.0V102.2M469.5 68.1V72.2M471.5 68.3V98.0M472.5 85.7V92.6M475.5 79.7V244.3M483.5 61.3V238.4M490.5 45.8V191.8M491.5 65.4V184.0M492.5 75.3V193.7M493.5 56.0V106.6M503.5 110.8V190.3M504.5 125.5V201.7M510.5 57.3V186.5M515.5 74.5V118.4M522.5 116.1V188.3M534.5 69.9V233.4M537.5 114.4V250.3M540.5 65.0V243.0M542.5 67.6V256.9M550.5 67.5V243.2M551.5 75.8V258.4M565.5 117.6V193.8M567.5 84.1V172.6M576.5 86.9V177.2M581.5 129.2V185.7M585.5 87.3V176.1M587.5 90.2V92.0M595.5 96.7V230.5M597.5 78.0V244.8M606.5 77.5V243.3M610.5 67.4V250.8M611.5 75.9V237.5M621.5 69.8V70.8M628.5 85.2V214.0M633.5 97.6V224.1M635.5 96.3V228.1M640.5 97.4V210.9M648.5 76.3V217.6M650.5 91.3V229.9M656.5 107.5V248.7M658.5 93.9V241.0M666.5 106.0V129.5M669.5 98.4V238.0M689.5 108.6V226.6M701.5 85.0V217.1M702.5 106.4V200.8M711.5 104.6V220.5M712.5 154.7V217.1M741.5 96.9V133.8M742.5 87.5V138.5M744.5 99.8V221.2M758.5 88.8V184.2M759.5 94.0V193.5M763.5 95.1V202.3M771.5 92.8V196.4M772.5 97.6V195.6M782.5 95.4V145.9M783.5 122.1V143.1M788.5 124.8V235.7M804.5 98.1V128.5M809.5 102.4V222.9M815.5 111.6V220.3M821.5 102.8V233.8M826.5 104.3V220.8M829.5 107.1V123.8M851.5 153.3V236.6M865.5 110.5V273.7M867.5 194.7V275.4M884.5 121.7V194.9M889.5 156.0V208.6M895.5 121.6V172.3M907.5 120.1V134.5M908.5 116.4V172.7M911.5 123.1V178.7M913.5 139.0V177.1M917.5 131.4V251.9M918.5 166.0V252.9M927.5 114.2V151.2M940.5 142.7V257.4M943.5 140.3V238.8M944.5 132.1V143.7M974.5 117.2V168.9M986.5 124.3V172.4M993.5 123.0V181.9M997.5 147.2V175.1M1004.5 139.4V176.3M1008.5 182.4V193.6M1011.5 178.2V200.7M1016.5 164.7V207.5M1024.5 185.6V204.4M1025.5 178.6V205.0M1028.5 182.2V196.9M1030.5 264.2V265.2M1033.5 182.5V211.4M1037.5 200.2V209.6M1046.5 206.9V232.7M1054.5 206.0V232.7M1060.5 213.6V214.6M1072.5 208.5V222.2M1090.5 205.0V206.0M1104.5 203.5V209.6M1106.5 213.1V214.1M1107.5 194.0V217.6M1108.5 187.6V223.6M1109.5 200.2V204.3M1114.5 196.5V203.3M1123.5 213.5V214.5" stroke="#929292" stroke-width="1" fill="none"/><path d="M91.5 138.0V170.5M93.5 168.6V169.6M100.5 120.7V167.9M108.5 129.1V182.3M111.5 143.9V167.7M115.5 151.3V198.6M116.5 142.5V181.7M125.5 130.5V156.0M131.5 177.5V211.5M134.5 172.0V190.5M160.5 127.5V179.6M169.5 116.5V194.4M175.5 108.1V175.0M183.5 109.1V205.2M190.5 130.6V198.8M192.5 109.3V214.0M195.5 125.2V294.0M201.5 101.1V294.0M214.5 88.5V150.1M215.5 116.0V294.0M219.5 109.8V294.0M300.5 107.8V294.0M312.5 95.2V294.0M324.5 94.3V294.0M326.5 116.8V267.7M334.5 75.8V222.5M341.5 70.0V229.7M356.5 119.5V250.8M360.5 99.6V267.9M365.5 51.6V259.2M366.5 51.4V254.5M386.5 60.0V96.8M417.5 50.6V209.9M419.5 43.4V214.1M436.5 41.4V211.2M447.5 50.4V131.0M449.5 58.8V215.4M450.5 67.8V202.7M451.5 59.1V197.8M458.5 55.4V201.4M461.5 81.7V206.1M463.5 63.5V74.2M486.5 66.7V70.7M511.5 76.1V185.2M513.5 68.3V69.3M517.5 87.5V191.0M520.5 83.6V200.1M543.5 77.2V247.1M553.5 64.8V244.1M558.5 68.2V223.1M559.5 79.6V222.0M560.5 82.2V240.8M571.5 63.6V81.3M574.5 62.4V180.7M579.5 76.7V184.7M592.5 85.3V93.1M596.5 79.6V239.4M600.5 78.4V258.8M602.5 85.7V231.5M616.5 80.1V81.8M618.5 72.9V75.0M649.5 79.2V104.6M651.5 75.8V204.9M654.5 81.6V225.9M657.5 95.5V251.9M664.5 84.9V125.9M665.5 88.8V127.6M667.5 92.4V241.4M686.5 106.8V229.2M692.5 90.1V226.3M693.5 81.9V244.8M698.5 100.5V236.0M705.5 89.1V200.5M707.5 105.6V203.1M716.5 85.6V214.9M733.5 107.4V144.7M743.5 99.1V134.9M775.5 112.0V191.4M784.5 97.3V243.5M798.5 119.3V238.8M807.5 111.1V236.5M812.5 115.7V218.6M813.5 106.2V237.2M817.5 173.0V230.8M824.5 117.0V231.9M833.5 114.9V261.6M838.5 176.8V257.5M839.5 121.5V247.3M843.5 113.8V260.9M856.5 115.1V242.0M858.5 108.5V214.7M871.5 119.6V251.3M872.5 121.1V275.5M875.5 126.0V253.5M880.5 127.3V262.3M881.5 107.2V270.8M883.5 128.1V208.5M885.5 163.5V196.9M894.5 114.1V164.9M900.5 139.4V179.7M903.5 128.3V140.9M914.5 128.0V175.0M915.5 117.3V246.8M922.5 139.9V230.9M924.5 117.4V223.6M937.5 128.3V248.8M945.5 132.3V141.7M948.5 116.1V257.3M961.5 130.5V165.4M963.5 123.9V169.5M973.5 140.0V171.2M975.5 162.2V172.3M976.5 135.6V190.4M977.5 138.9V180.3M995.5 203.2V204.2M998.5 144.4V195.8M1009.5 164.1V182.9M1019.5 184.9V185.9M1020.5 164.3V194.3M1021.5 195.0V210.2M1034.5 184.4V192.2M1047.5 201.9V212.1M1061.5 212.8V213.8M1081.5 195.8V218.3M1089.5 191.0V210.4M1099.5 194.4V210.1M1102.5 207.4V215.3M1113.5 190.8V203.7M1125.5 192.6V215.2" stroke="#747474" stroke-width="1" fill="none"/><path d="M92.5 139.3V206.3M135.5 211.1V249.9M178.5 113.9V167.6M346.5 77.7V212.5M383.5 37.3V189.6M507.5 62.1V219.1M536.5 74.9V274.4M703.5 83.4V227.5M720.5 89.2V224.5M770.5 109.0V251.1M835.5 116.8V277.3M933.5 134.8V287.3M960.5 137.1V184.2M1026.5 193.5V251.4M1036.5 204.5V230.3M1045.5 246.3V292.0M1083.5 197.2V245.6M1112.5 192.7V260.1M1120.5 189.0V218.2" stroke="#e6e6e6" stroke-width="1" fill="none"/><path d="M105.5 132.7V188.6M112.5 131.1V209.6M126.5 130.2V181.0M130.5 184.4V204.7M138.5 179.0V187.6M139.5 205.5V206.5M157.5 153.2V180.9M164.5 114.9V176.7M180.5 128.2V175.9M184.5 111.7V207.9M193.5 107.3V212.1M323.5 108.2V294.0M333.5 68.1V230.8M337.5 62.0V245.4M391.5 91.4V93.3M400.5 56.8V86.1M407.5 46.8V52.1M422.5 87.6V214.1M426.5 48.8V207.5M428.5 66.5V200.1M437.5 61.4V210.4M460.5 58.6V80.5M464.5 64.7V90.4M476.5 79.9V222.9M484.5 78.6V222.7M494.5 71.8V107.5M508.5 66.1V206.1M519.5 85.3V195.5M531.5 87.9V234.9M557.5 63.3V229.7M561.5 63.9V231.8M566.5 75.7V175.6M593.5 73.0V89.6M594.5 72.0V84.3M601.5 61.3V243.6M605.5 82.8V258.7M615.5 62.2V66.0M619.5 64.7V68.7M630.5 80.6V205.6M631.5 71.3V228.6M636.5 97.1V223.5M673.5 79.1V227.3M690.5 140.4V235.7M718.5 84.9V211.1M721.5 135.4V215.7M734.5 95.2V144.8M738.5 100.0V206.3M746.5 107.0V199.7M751.5 112.5V187.4M754.5 109.9V119.0M755.5 104.8V182.4M774.5 143.8V185.8M776.5 108.4V191.5M786.5 140.3V251.6M800.5 115.0V238.2M864.5 114.1V257.8M877.5 123.8V275.0M878.5 118.4V270.8M899.5 125.8V156.7M910.5 141.1V176.4M919.5 124.1V249.6M929.5 141.4V143.5M954.5 153.2V154.2M968.5 123.2V187.6M983.5 127.1V173.6M988.5 129.9V159.3M994.5 118.2V184.3M1012.5 202.9V203.9M1018.5 189.3V190.3M1038.5 180.9V211.7M1041.5 184.8V211.6M1069.5 193.1V212.5M1078.5 196.6V210.2M1080.5 252.1V253.1M1082.5 204.6V224.1M1092.5 253.8V254.8M1103.5 193.9V203.6M1119.5 213.3V214.3M1128.5 184.2V197.2" stroke="#a0a0a0" stroke-width="1" fill="none"/><path d="M119.5 153.2V219.0M127.5 157.8V231.9M129.5 136.1V189.0M168.5 103.9V211.6M194.5 124.4V225.0M347.5 65.7V248.0M357.5 54.6V292.0M584.5 82.5V223.1M590.5 73.0V210.7M645.5 93.8V236.9M660.5 87.3V258.3M700.5 88.7V287.1M936.5 128.1V275.9M939.5 123.9V270.6M1003.5 158.1V184.9M1062.5 190.9V247.9" stroke="#c8c8c8" stroke-width="1" fill="none"/><path d="M122.5 136.2V183.1M132.5 154.3V250.2M352.5 55.1V244.7M583.5 75.8V178.7M789.5 150.8V247.8M791.5 103.1V292.0M799.5 94.0V240.8M832.5 125.7V292.0M837.5 102.8V292.0M840.5 122.1V262.0M1040.5 198.3V234.0M1052.5 188.5V279.1M1071.5 247.0V291.4M1097.5 276.4V283.7" stroke="#bdbdbd" stroke-width="1" fill="none"/><path d="M143.5 178.8V179.8M179.5 104.2V168.6M336.5 74.4V245.3M361.5 46.9V275.3M376.5 119.3V275.3M379.5 39.0V162.2M387.5 29.9V95.0M406.5 32.1V218.8M423.5 113.4V193.9M439.5 101.6V185.6M445.5 54.9V136.1M453.5 56.7V204.3M454.5 64.7V69.8M466.5 85.0V104.5M470.5 76.7V134.4M489.5 73.2V74.5M509.5 75.0V185.1M529.5 77.4V257.5M562.5 72.8V98.7M564.5 64.4V229.7M580.5 68.1V168.4M608.5 79.4V244.8M629.5 82.1V207.7M642.5 81.7V206.6M675.5 98.6V101.4M745.5 98.9V215.2M765.5 87.1V192.6M796.5 98.9V245.4M816.5 117.8V229.8M820.5 100.4V232.8M882.5 129.4V272.8M902.5 198.1V199.1M938.5 137.4V259.6M941.5 125.1V243.1M966.5 133.3V172.4M978.5 123.8V193.1M1058.5 210.3V215.9M1073.5 208.2V209.2" stroke="#555555" stroke-width="1" fill="none"/><path d="M158.5 149.4V216.7M339.5 68.1V292.0M575.5 132.2V233.0M612.5 119.2V288.7M637.5 137.1V214.0M687.5 99.5V292.0M704.5 93.0V242.8M739.5 90.1V217.2M818.5 104.5V233.6M852.5 114.7V261.4M920.5 151.1V270.6M931.5 134.8V188.1M981.5 201.8V214.1" stroke="#d8d8d8" stroke-width="1" fill="none"/><path d="M197.5 139.3V294.0M198.5 216.3V294.0M199.5 232.5V294.0M207.5 270.7V294.0M214.5 150.1V294.0M216.5 178.1V294.0M222.5 293.4V294.0M226.5 220.7V294.0M230.5 270.2V294.0M234.5 133.6V294.0M241.5 171.4V294.0M245.5 240.0V294.0M263.5 150.2V294.0M269.5 290.8V294.0M274.5 197.6V294.0M286.5 253.0V294.0M295.5 213.5V294.0M296.5 135.4V294.0M297.5 184.4V294.0M302.5 173.9V294.0M303.5 186.3V294.0M305.5 125.7V294.0M306.5 149.3V294.0M307.5 217.6V294.0M319.5 251.3V294.0M325.5 171.2V294.0M326.5 267.7V294.0M327.5 240.1V294.0M330.5 258.4V294.0" stroke="#111" stroke-width="1" fill="none"/><path d="M222.5 108.9V293.4M256.5 122.8V294.0M259.5 110.7V294.0M271.5 112.4V294.0M282.5 100.7V294.0" stroke="#666" stroke-width="1" fill="none"/><path d="M226.5 125.1V220.7M234.5 87.1V133.6M249.5 97.1V294.0M266.5 87.5V294.0M279.5 101.0V294.0M290.5 109.0V294.0" stroke="#333" stroke-width="1" fill="none"/><path d="M230.5 125.4V270.2M252.5 109.7V294.0M263.5 103.6V150.2" stroke="#444" stroke-width="1" fill="none"/><path d="M238.5 115.3V294.0M241.5 93.9V171.4M269.5 106.8V290.8M274.5 107.8V197.6M276.5 113.9V294.0M294.5 86.0V294.0" stroke="#777" stroke-width="1" fill="none"/><path d="M245.5 91.2V240.0M286.5 115.6V253.0" stroke="#222" stroke-width="1" fill="none"/></g><rect x="88.4" y="151.2" width="41" height="8.6" fill="#fff" stroke="#000" stroke-width="2"/><rect x="154.8" y="151.2" width="41" height="8.6" fill="#fff" stroke="#000" stroke-width="2"/><rect x="221.2" y="151.2" width="41" height="8.6" fill="#fff" stroke="#000" stroke-width="2"/><rect x="287.6" y="151.2" width="41" height="8.6" fill="#fff" stroke="#000" stroke-width="2"/><rect x="354.0" y="151.2" width="41" height="8.6" fill="#fff" stroke="#000" stroke-width="2"/><rect x="420.4" y="151.2" width="41" height="8.6" fill="#fff" stroke="#000" stroke-width="2"/><rect x="486.8" y="151.2" width="41" height="8.6" fill="#fff" stroke="#000" stroke-width="2"/><rect x="553.2" y="151.2" width="41" height="8.6" fill="#fff" stroke="#000" stroke-width="2"/><rect x="619.6" y="151.2" width="41" height="8.6" fill="#fff" stroke="#000" stroke-width="2"/><rect x="686.0" y="151.2" width="41" height="8.6" fill="#fff" stroke="#000" stroke-width="2"/><rect x="752.4" y="151.2" width="41" height="8.6" fill="#fff" stroke="#000" stroke-width="2"/><rect x="818.8" y="151.2" width="41" height="8.6" fill="#fff" stroke="#000" stroke-width="2"/><rect x="885.2" y="151.2" width="41" height="8.6" fill="#fff" stroke="#000" stroke-width="2"/><rect x="951.6" y="151.2" width="41" height="8.6" fill="#fff" stroke="#000" stroke-width="2"/><rect x="1018.0" y="151.2" width="41" height="8.6" fill="#fff" stroke="#000" stroke-width="2"/><rect x="1084.4" y="151.2" width="41" height="8.6" fill="#fff" stroke="#000" stroke-width="2"/>
<text x="218.5" y="52.9" font-size="23.3" text-anchor="middle">200 nM DAMGO</text>
<line x1="144.8" y1="63.1" x2="294.2" y2="63.1" stroke="#000" stroke-width="4"/>
<text x="1034.3" y="52.6" font-size="23.5" text-anchor="middle">1.0 µM Naloxone</text>
<line x1="939" y1="65.1" x2="1130.8" y2="65.1" stroke="#000" stroke-width="3.6"/>
<line x1="1032" y1="326.4" x2="1128" y2="326.4" stroke="#000" stroke-width="3.8"/>
<text x="1080.6" y="349.8" font-size="24" text-anchor="middle">10 min</text>
<path d="M45.3 273.2C43.2 271.2 40.6 272.2 40.6 276V292C40.6 296 37.9 296.8 36.2 295" stroke="#000" stroke-width="2.6" fill="none" stroke-linecap="round"/>
<text transform="translate(45.6 294.7) scale(0.98 1.07)" font-size="28">C</text>
<text transform="translate(64.2 294.7) scale(1 1.04)" font-size="22">4</text>
<rect x="898.2" y="9.6" width="266.7" height="353.1" fill="none" stroke="#3366ff" stroke-width="10"/>
<line x1="154.2" y1="510.2" x2="154.2" y2="836.1" stroke="#000" stroke-width="2" stroke-linecap="butt"/>
<line x1="144.7" y1="534.4" x2="154.2" y2="534.4" stroke="#000" stroke-width="2" stroke-linecap="butt"/>
<text x="127.0" y="545.0" font-size="32" text-anchor="end">80</text>
<line x1="144.7" y1="583.0" x2="154.2" y2="583.0" stroke="#000" stroke-width="2" stroke-linecap="butt"/>
<text x="127.0" y="593.6" font-size="32" text-anchor="end">60</text>
<line x1="144.7" y1="631.7" x2="154.2" y2="631.7" stroke="#000" stroke-width="2" stroke-linecap="butt"/>
<text x="127.0" y="642.3" font-size="32" text-anchor="end">40</text>
<line x1="144.7" y1="680.4" x2="154.2" y2="680.4" stroke="#000" stroke-width="2" stroke-linecap="butt"/>
<text x="127.0" y="691.0" font-size="32" text-anchor="end">20</text>
<line x1="144.7" y1="729.0" x2="154.2" y2="729.0" stroke="#000" stroke-width="2" stroke-linecap="butt"/>
<text x="127.0" y="739.6" font-size="32" text-anchor="end">0</text>
<line x1="144.7" y1="777.6" x2="154.2" y2="777.6" stroke="#000" stroke-width="2" stroke-linecap="butt"/>
<text x="127.0" y="788.2" font-size="32" text-anchor="end">-20</text>
<line x1="144.7" y1="826.3" x2="154.2" y2="826.3" stroke="#000" stroke-width="2" stroke-linecap="butt"/>
<text x="127.0" y="836.9" font-size="32" text-anchor="end">-40</text>
<line x1="144.7" y1="826.6" x2="198.5" y2="826.6" stroke="#000" stroke-width="2" stroke-linecap="butt"/>
<line x1="241.0" y1="826.6" x2="560.2" y2="826.6" stroke="#000" stroke-width="2" stroke-linecap="butt"/>
<line x1="188.1" y1="826.6" x2="188.1" y2="836.1" stroke="#000" stroke-width="2" stroke-linecap="butt"/>
<line x1="256.0" y1="826.6" x2="256.0" y2="836.1" stroke="#000" stroke-width="2" stroke-linecap="butt"/>
<line x1="289.8" y1="826.6" x2="289.8" y2="836.1" stroke="#000" stroke-width="2" stroke-linecap="butt"/>
<line x1="323.6" y1="826.6" x2="323.6" y2="836.1" stroke="#000" stroke-width="2" stroke-linecap="butt"/>
<line x1="357.4" y1="826.6" x2="357.4" y2="836.1" stroke="#000" stroke-width="2" stroke-linecap="butt"/>
<line x1="391.2" y1="826.6" x2="391.2" y2="836.1" stroke="#000" stroke-width="2" stroke-linecap="butt"/>
<line x1="425.0" y1="826.6" x2="425.0" y2="836.1" stroke="#000" stroke-width="2" stroke-linecap="butt"/>
<line x1="458.8" y1="826.6" x2="458.8" y2="836.1" stroke="#000" stroke-width="2" stroke-linecap="butt"/>
<line x1="492.6" y1="826.6" x2="492.6" y2="836.1" stroke="#000" stroke-width="2" stroke-linecap="butt"/>
<line x1="526.4" y1="826.6" x2="526.4" y2="836.1" stroke="#000" stroke-width="2" stroke-linecap="butt"/>
<line x1="560.2" y1="826.6" x2="560.2" y2="836.1" stroke="#000" stroke-width="2" stroke-linecap="butt"/>
<path d="M206.5 809.6H200.5V847.6H206.5" stroke="#000" stroke-width="3" fill="none"/>
<path d="M233.0 809.6H239.0V847.6H233.0" stroke="#000" stroke-width="3" fill="none"/>
<text x="181.9" y="878.3" font-size="32" text-anchor="middle">-75</text>
<text x="250.8" y="878.3" font-size="32" text-anchor="middle">-10</text>
<text x="326.3" y="878.3" font-size="32" text-anchor="middle">0</text>
<text x="388.1" y="878.3" font-size="32" text-anchor="middle">10</text>
<text x="457.6" y="878.3" font-size="32" text-anchor="middle">20</text>
<text x="527.6" y="878.3" font-size="32" text-anchor="middle">30</text>
<text x="353.0" y="921.5" font-size="31.5" text-anchor="middle">Time (min)</text>
<text x="26.3" y="670.5" font-size="31.5" text-anchor="middle" transform="rotate(-90 26.3 670.5)">Percent change in</text>
<text x="64.0" y="670.5" font-size="31.5" text-anchor="middle" transform="rotate(-90 64.0 670.5)">burst amplitude (%)</text>
<line x1="323.0" y1="460.4" x2="563.3" y2="460.4" stroke="#000" stroke-width="4" stroke-linecap="butt"/>
<text x="443.1" y="450.1" font-size="23.6" text-anchor="middle">Naloxone</text>
<text x="189.4" y="689.4" font-size="23" text-anchor="middle">base-</text>
<text x="189.4" y="713.6" font-size="23" text-anchor="middle">line</text>
<line x1="256.0" y1="522.2" x2="256.0" y2="598.8" stroke="#000" stroke-width="1.6" stroke-linecap="butt"/>
<line x1="256.0" y1="735.4" x2="256.0" y2="775.8" stroke="#000" stroke-width="1.6" stroke-linecap="butt"/>
<line x1="289.8" y1="531.1" x2="289.8" y2="609.0" stroke="#000" stroke-width="1.6" stroke-linecap="butt"/>
<line x1="289.8" y1="734.3" x2="289.8" y2="774.7" stroke="#000" stroke-width="1.6" stroke-linecap="butt"/>
<line x1="323.6" y1="546.2" x2="323.6" y2="625.0" stroke="#000" stroke-width="1.6" stroke-linecap="butt"/>
<line x1="323.6" y1="737.3" x2="323.6" y2="778.6" stroke="#000" stroke-width="1.6" stroke-linecap="butt"/>
<line x1="357.4" y1="564.4" x2="357.4" y2="639.0" stroke="#000" stroke-width="1.6" stroke-linecap="butt"/>
<line x1="357.4" y1="739.1" x2="357.4" y2="782.9" stroke="#000" stroke-width="1.6" stroke-linecap="butt"/>
<line x1="391.2" y1="593.2" x2="391.2" y2="673.0" stroke="#000" stroke-width="1.6" stroke-linecap="butt"/>
<line x1="391.2" y1="739.6" x2="391.2" y2="785.9" stroke="#000" stroke-width="1.6" stroke-linecap="butt"/>
<line x1="425.0" y1="632.0" x2="425.0" y2="705.6" stroke="#000" stroke-width="1.6" stroke-linecap="butt"/>
<line x1="425.0" y1="740.7" x2="425.0" y2="789.7" stroke="#000" stroke-width="1.6" stroke-linecap="butt"/>
<line x1="458.8" y1="649.8" x2="458.8" y2="720.8" stroke="#000" stroke-width="1.6" stroke-linecap="butt"/>
<line x1="458.8" y1="745.2" x2="458.8" y2="794.1" stroke="#000" stroke-width="1.6" stroke-linecap="butt"/>
<line x1="492.6" y1="661.0" x2="492.6" y2="725.7" stroke="#000" stroke-width="1.6" stroke-linecap="butt"/>
<line x1="492.6" y1="741.6" x2="492.6" y2="798.6" stroke="#000" stroke-width="1.6" stroke-linecap="butt"/>
<line x1="526.4" y1="647.9" x2="526.4" y2="713.8" stroke="#000" stroke-width="1.6" stroke-linecap="butt"/>
<line x1="526.4" y1="734.5" x2="526.4" y2="784.5" stroke="#000" stroke-width="1.6" stroke-linecap="butt"/>
<line x1="250.2" y1="522.2" x2="261.8" y2="522.2" stroke="#000" stroke-width="1.6" stroke-linecap="butt"/>
<line x1="250.2" y1="775.8" x2="261.8" y2="775.8" stroke="#000" stroke-width="1.6" stroke-linecap="butt"/>
<line x1="284.0" y1="531.1" x2="295.6" y2="531.1" stroke="#000" stroke-width="1.6" stroke-linecap="butt"/>
<line x1="284.0" y1="774.7" x2="295.6" y2="774.7" stroke="#000" stroke-width="1.6" stroke-linecap="butt"/>
<line x1="317.8" y1="546.2" x2="329.4" y2="546.2" stroke="#000" stroke-width="1.6" stroke-linecap="butt"/>
<line x1="317.8" y1="778.6" x2="329.4" y2="778.6" stroke="#000" stroke-width="1.6" stroke-linecap="butt"/>
<line x1="351.6" y1="564.4" x2="363.2" y2="564.4" stroke="#000" stroke-width="1.6" stroke-linecap="butt"/>
<line x1="351.6" y1="782.9" x2="363.2" y2="782.9" stroke="#000" stroke-width="1.6" stroke-linecap="butt"/>
<line x1="385.4" y1="593.2" x2="397.0" y2="593.2" stroke="#000" stroke-width="1.6" stroke-linecap="butt"/>
<line x1="385.4" y1="785.9" x2="397.0" y2="785.9" stroke="#000" stroke-width="1.6" stroke-linecap="butt"/>
<line x1="419.2" y1="632.0" x2="430.8" y2="632.0" stroke="#000" stroke-width="1.6" stroke-linecap="butt"/>
<line x1="419.2" y1="789.7" x2="430.8" y2="789.7" stroke="#000" stroke-width="1.6" stroke-linecap="butt"/>
<line x1="453.0" y1="649.8" x2="464.6" y2="649.8" stroke="#000" stroke-width="1.6" stroke-linecap="butt"/>
<line x1="453.0" y1="794.1" x2="464.6" y2="794.1" stroke="#000" stroke-width="1.6" stroke-linecap="butt"/>
<line x1="486.8" y1="661.0" x2="498.4" y2="661.0" stroke="#000" stroke-width="1.6" stroke-linecap="butt"/>
<line x1="486.8" y1="798.6" x2="498.4" y2="798.6" stroke="#000" stroke-width="1.6" stroke-linecap="butt"/>
<line x1="520.6" y1="647.9" x2="532.2" y2="647.9" stroke="#000" stroke-width="1.6" stroke-linecap="butt"/>
<line x1="520.6" y1="784.5" x2="532.2" y2="784.5" stroke="#000" stroke-width="1.6" stroke-linecap="butt"/>
<polyline points="256.0,735.4 289.8,734.3 323.6,737.3 357.4,739.1 391.2,739.6 425.0,740.7 458.8,745.2 492.6,741.6 526.4,734.5" fill="none" stroke="#000" stroke-width="1.5"/>
<polyline points="256.0,598.8 289.8,609.0 323.6,625.0 357.4,639.0 391.2,673.0 425.0,705.6 458.8,720.8 492.6,725.7 526.4,713.8" fill="none" stroke="#000" stroke-width="1.5"/>
<rect x="248.5" y="727.9" width="15.0" height="15.0" fill="#fff" stroke="#000" stroke-width="1.6"/>
<rect x="282.3" y="726.8" width="15.0" height="15.0" fill="#fff" stroke="#000" stroke-width="1.6"/>
<rect x="316.1" y="729.8" width="15.0" height="15.0" fill="#fff" stroke="#000" stroke-width="1.6"/>
<rect x="349.9" y="731.6" width="15.0" height="15.0" fill="#fff" stroke="#000" stroke-width="1.6"/>
<rect x="383.7" y="732.1" width="15.0" height="15.0" fill="#fff" stroke="#000" stroke-width="1.6"/>
<rect x="417.5" y="733.2" width="15.0" height="15.0" fill="#fff" stroke="#000" stroke-width="1.6"/>
<rect x="451.3" y="737.7" width="15.0" height="15.0" fill="#fff" stroke="#000" stroke-width="1.6"/>
<rect x="485.1" y="734.1" width="15.0" height="15.0" fill="#fff" stroke="#000" stroke-width="1.6"/>
<rect x="518.9" y="727.0" width="15.0" height="15.0" fill="#fff" stroke="#000" stroke-width="1.6"/>
<rect x="180.3" y="721.4" width="15" height="15" fill="#fff" stroke="#000" stroke-width="1.6"/>
<circle cx="187.8" cy="728.9" r="8.9" fill="#000"/>
<circle cx="256.0" cy="598.8" r="8.9" fill="#000"/>
<circle cx="289.8" cy="609.0" r="8.9" fill="#000"/>
<circle cx="323.6" cy="625.0" r="8.9" fill="#000"/>
<circle cx="357.4" cy="639.0" r="8.9" fill="#000"/>
<circle cx="391.2" cy="673.0" r="8.9" fill="#000"/>
<circle cx="425.0" cy="705.6" r="8.9" fill="#000"/>
<circle cx="458.8" cy="720.8" r="8.9" fill="#000"/>
<circle cx="492.6" cy="725.7" r="8.9" fill="#000"/>
<circle cx="526.4" cy="713.8" r="8.9" fill="#000"/>
<line x1="803.3" y1="511.6" x2="803.3" y2="836.9" stroke="#000" stroke-width="2" stroke-linecap="butt"/>
<line x1="793.8" y1="511.9" x2="803.3" y2="511.9" stroke="#000" stroke-width="2" stroke-linecap="butt"/>
<text x="776.5" y="522.5" font-size="32" text-anchor="end">20</text>
<line x1="793.8" y1="556.9" x2="803.3" y2="556.9" stroke="#000" stroke-width="2" stroke-linecap="butt"/>
<text x="776.5" y="567.5" font-size="32" text-anchor="end">10</text>
<line x1="793.8" y1="601.9" x2="803.3" y2="601.9" stroke="#000" stroke-width="2" stroke-linecap="butt"/>
<text x="776.5" y="612.5" font-size="32" text-anchor="end">0</text>
<line x1="793.8" y1="646.9" x2="803.3" y2="646.9" stroke="#000" stroke-width="2" stroke-linecap="butt"/>
<text x="776.5" y="657.5" font-size="32" text-anchor="end">-10</text>
<line x1="793.8" y1="691.9" x2="803.3" y2="691.9" stroke="#000" stroke-width="2" stroke-linecap="butt"/>
<text x="776.5" y="702.5" font-size="32" text-anchor="end">-20</text>
<line x1="793.8" y1="736.9" x2="803.3" y2="736.9" stroke="#000" stroke-width="2" stroke-linecap="butt"/>
<text x="776.5" y="747.5" font-size="32" text-anchor="end">-30</text>
<line x1="793.8" y1="781.9" x2="803.3" y2="781.9" stroke="#000" stroke-width="2" stroke-linecap="butt"/>
<text x="776.5" y="792.5" font-size="32" text-anchor="end">-40</text>
<line x1="793.8" y1="826.9" x2="803.3" y2="826.9" stroke="#000" stroke-width="2" stroke-linecap="butt"/>
<text x="776.5" y="837.5" font-size="32" text-anchor="end">-50</text>
<line x1="793.8" y1="827.4" x2="850.5" y2="827.4" stroke="#000" stroke-width="2" stroke-linecap="butt"/>
<line x1="892.5" y1="827.4" x2="1203.2" y2="827.4" stroke="#000" stroke-width="2" stroke-linecap="butt"/>
<line x1="836.1" y1="827.4" x2="836.1" y2="836.9" stroke="#000" stroke-width="2" stroke-linecap="butt"/>
<line x1="902.6" y1="827.4" x2="902.6" y2="836.9" stroke="#000" stroke-width="2" stroke-linecap="butt"/>
<line x1="936.0" y1="827.4" x2="936.0" y2="836.9" stroke="#000" stroke-width="2" stroke-linecap="butt"/>
<line x1="969.4" y1="827.4" x2="969.4" y2="836.9" stroke="#000" stroke-width="2" stroke-linecap="butt"/>
<line x1="1002.8" y1="827.4" x2="1002.8" y2="836.9" stroke="#000" stroke-width="2" stroke-linecap="butt"/>
<line x1="1036.2" y1="827.4" x2="1036.2" y2="836.9" stroke="#000" stroke-width="2" stroke-linecap="butt"/>
<line x1="1069.6" y1="827.4" x2="1069.6" y2="836.9" stroke="#000" stroke-width="2" stroke-linecap="butt"/>
<line x1="1103.0" y1="827.4" x2="1103.0" y2="836.9" stroke="#000" stroke-width="2" stroke-linecap="butt"/>
<line x1="1136.4" y1="827.4" x2="1136.4" y2="836.9" stroke="#000" stroke-width="2" stroke-linecap="butt"/>
<line x1="1169.8" y1="827.4" x2="1169.8" y2="836.9" stroke="#000" stroke-width="2" stroke-linecap="butt"/>
<line x1="1203.2" y1="827.4" x2="1203.2" y2="836.9" stroke="#000" stroke-width="2" stroke-linecap="butt"/>
<path d="M858.5 810.4H852.5V847.2H858.5" stroke="#000" stroke-width="3" fill="none"/>
<path d="M884.5 810.4H890.5V847.2H884.5" stroke="#000" stroke-width="3" fill="none"/>
<text x="832.0" y="878.0" font-size="32" text-anchor="middle">-75</text>
<text x="893.1" y="878.0" font-size="32" text-anchor="middle">-10</text>
<text x="968.9" y="878.0" font-size="32" text-anchor="middle">0</text>
<text x="1030.6" y="878.0" font-size="32" text-anchor="middle">10</text>
<text x="1100.2" y="878.0" font-size="32" text-anchor="middle">20</text>
<text x="1170.9" y="878.0" font-size="32" text-anchor="middle">30</text>
<text x="995.0" y="920.5" font-size="31.5" text-anchor="middle">Time (min)</text>
<text x="684.6" y="670.9" font-size="31.5" text-anchor="middle" transform="rotate(-90 684.6 670.9)">Percent change in</text>
<text x="722.3" y="670.9" font-size="31.5" text-anchor="middle" transform="rotate(-90 722.3 670.9)">burst frequency (%)</text>
<line x1="966.1" y1="460.5" x2="1206.1" y2="460.5" stroke="#000" stroke-width="4" stroke-linecap="butt"/>
<text x="1085.7" y="450.1" font-size="23.6" text-anchor="middle">Naloxone</text>
<text x="837.5" y="563.9" font-size="23" text-anchor="middle">base-</text>
<text x="837.5" y="588.1" font-size="23" text-anchor="middle">line</text>
<line x1="902.6" y1="733.1" x2="902.6" y2="781.6" stroke="#000" stroke-width="1.6" stroke-linecap="butt"/>
<line x1="936.0" y1="720.5" x2="936.0" y2="768.1" stroke="#000" stroke-width="1.6" stroke-linecap="butt"/>
<line x1="969.4" y1="713.7" x2="969.4" y2="768.8" stroke="#000" stroke-width="1.6" stroke-linecap="butt"/>
<line x1="1002.8" y1="685.8" x2="1002.8" y2="727.9" stroke="#000" stroke-width="1.6" stroke-linecap="butt"/>
<line x1="1036.2" y1="573.1" x2="1036.2" y2="605.5" stroke="#000" stroke-width="1.6" stroke-linecap="butt"/>
<line x1="1069.6" y1="523.5" x2="1069.6" y2="567.0" stroke="#000" stroke-width="1.6" stroke-linecap="butt"/>
<line x1="1103.0" y1="519.0" x2="1103.0" y2="578.6" stroke="#000" stroke-width="1.6" stroke-linecap="butt"/>
<line x1="1136.4" y1="553.5" x2="1136.4" y2="599.1" stroke="#000" stroke-width="1.6" stroke-linecap="butt"/>
<line x1="1169.8" y1="546.4" x2="1169.8" y2="603.6" stroke="#000" stroke-width="1.6" stroke-linecap="butt"/>
<line x1="902.6" y1="601.1" x2="902.6" y2="645.1" stroke="#000" stroke-width="1.6" stroke-linecap="butt"/>
<line x1="936.0" y1="608.4" x2="936.0" y2="650.3" stroke="#000" stroke-width="1.6" stroke-linecap="butt"/>
<line x1="969.4" y1="619.8" x2="969.4" y2="655.3" stroke="#000" stroke-width="1.6" stroke-linecap="butt"/>
<line x1="1002.8" y1="622.9" x2="1002.8" y2="668.0" stroke="#000" stroke-width="1.6" stroke-linecap="butt"/>
<line x1="1036.2" y1="671.0" x2="1036.2" y2="712.9" stroke="#000" stroke-width="1.6" stroke-linecap="butt"/>
<line x1="1069.6" y1="665.4" x2="1069.6" y2="707.9" stroke="#000" stroke-width="1.6" stroke-linecap="butt"/>
<line x1="1103.0" y1="669.1" x2="1103.0" y2="710.5" stroke="#000" stroke-width="1.6" stroke-linecap="butt"/>
<line x1="1136.4" y1="679.8" x2="1136.4" y2="721.0" stroke="#000" stroke-width="1.6" stroke-linecap="butt"/>
<line x1="1169.8" y1="675.3" x2="1169.8" y2="711.0" stroke="#000" stroke-width="1.6" stroke-linecap="butt"/>
<line x1="1002.8" y1="668.0" x2="1002.8" y2="713.0" stroke="#000" stroke-width="1.6" stroke-linecap="butt"/>
<line x1="896.8" y1="781.6" x2="908.4" y2="781.6" stroke="#000" stroke-width="1.6" stroke-linecap="butt"/>
<line x1="930.2" y1="768.1" x2="941.8" y2="768.1" stroke="#000" stroke-width="1.6" stroke-linecap="butt"/>
<line x1="963.6" y1="768.8" x2="975.2" y2="768.8" stroke="#000" stroke-width="1.6" stroke-linecap="butt"/>
<line x1="997.0" y1="727.9" x2="1008.6" y2="727.9" stroke="#000" stroke-width="1.6" stroke-linecap="butt"/>
<line x1="1030.4" y1="573.1" x2="1042.0" y2="573.1" stroke="#000" stroke-width="1.6" stroke-linecap="butt"/>
<line x1="1063.8" y1="523.5" x2="1075.4" y2="523.5" stroke="#000" stroke-width="1.6" stroke-linecap="butt"/>
<line x1="1097.2" y1="519.0" x2="1108.8" y2="519.0" stroke="#000" stroke-width="1.6" stroke-linecap="butt"/>
<line x1="1130.6" y1="553.5" x2="1142.2" y2="553.5" stroke="#000" stroke-width="1.6" stroke-linecap="butt"/>
<line x1="1164.0" y1="546.4" x2="1175.6" y2="546.4" stroke="#000" stroke-width="1.6" stroke-linecap="butt"/>
<line x1="896.8" y1="601.1" x2="908.4" y2="601.1" stroke="#000" stroke-width="1.6" stroke-linecap="butt"/>
<line x1="930.2" y1="608.4" x2="941.8" y2="608.4" stroke="#000" stroke-width="1.6" stroke-linecap="butt"/>
<line x1="963.6" y1="619.8" x2="975.2" y2="619.8" stroke="#000" stroke-width="1.6" stroke-linecap="butt"/>
<line x1="997.0" y1="622.9" x2="1008.6" y2="622.9" stroke="#000" stroke-width="1.6" stroke-linecap="butt"/>
<line x1="1030.4" y1="712.9" x2="1042.0" y2="712.9" stroke="#000" stroke-width="1.6" stroke-linecap="butt"/>
<line x1="1063.8" y1="707.9" x2="1075.4" y2="707.9" stroke="#000" stroke-width="1.6" stroke-linecap="butt"/>
<line x1="1097.2" y1="710.5" x2="1108.8" y2="710.5" stroke="#000" stroke-width="1.6" stroke-linecap="butt"/>
<line x1="1130.6" y1="721.0" x2="1142.2" y2="721.0" stroke="#000" stroke-width="1.6" stroke-linecap="butt"/>
<line x1="1164.0" y1="711.0" x2="1175.6" y2="711.0" stroke="#000" stroke-width="1.6" stroke-linecap="butt"/>
<line x1="997.0" y1="713.0" x2="1008.6" y2="713.0" stroke="#000" stroke-width="1.6" stroke-linecap="butt"/>
<line x1="997.0" y1="643.9" x2="1008.6" y2="643.9" stroke="#000" stroke-width="1.6" stroke-linecap="butt"/>
<polyline points="902.6,645.1 936.0,650.3 969.4,655.3 1002.8,668.0 1036.2,671.0 1069.6,665.4 1103.0,669.1 1136.4,679.8 1169.8,675.3" fill="none" stroke="#000" stroke-width="1.5"/>
<polyline points="902.6,733.1 936.0,720.5 969.4,713.7 1002.8,685.8 1036.2,605.5 1069.6,567.0 1103.0,578.6 1136.4,599.1 1169.8,603.6" fill="none" stroke="#000" stroke-width="1.5"/>
<rect x="895.1" y="637.6" width="15.0" height="15.0" fill="#fff" stroke="#000" stroke-width="1.6"/>
<rect x="928.5" y="642.8" width="15.0" height="15.0" fill="#fff" stroke="#000" stroke-width="1.6"/>
<rect x="961.9" y="647.8" width="15.0" height="15.0" fill="#fff" stroke="#000" stroke-width="1.6"/>
<rect x="995.3" y="660.5" width="15.0" height="15.0" fill="#fff" stroke="#000" stroke-width="1.6"/>
<rect x="1028.7" y="663.5" width="15.0" height="15.0" fill="#fff" stroke="#000" stroke-width="1.6"/>
<rect x="1062.1" y="657.9" width="15.0" height="15.0" fill="#fff" stroke="#000" stroke-width="1.6"/>
<rect x="1095.5" y="661.6" width="15.0" height="15.0" fill="#fff" stroke="#000" stroke-width="1.6"/>
<rect x="1128.9" y="672.3" width="15.0" height="15.0" fill="#fff" stroke="#000" stroke-width="1.6"/>
<rect x="1162.3" y="667.8" width="15.0" height="15.0" fill="#fff" stroke="#000" stroke-width="1.6"/>
<rect x="828.2" y="594.4" width="15" height="15" fill="#fff" stroke="#000" stroke-width="1.6"/>
<circle cx="835.7" cy="601.9" r="8.9" fill="#000"/>
<circle cx="902.6" cy="733.1" r="8.9" fill="#000"/>
<circle cx="936.0" cy="720.5" r="8.9" fill="#000"/>
<circle cx="969.4" cy="713.7" r="8.9" fill="#000"/>
<circle cx="1002.8" cy="685.8" r="8.9" fill="#000"/>
<circle cx="1036.2" cy="605.5" r="8.9" fill="#000"/>
<circle cx="1069.6" cy="567.0" r="8.9" fill="#000"/>
<circle cx="1103.0" cy="578.6" r="8.9" fill="#000"/>
<circle cx="1136.4" cy="599.1" r="8.9" fill="#000"/>
<circle cx="1169.8" cy="603.6" r="8.9" fill="#000"/>
<line x1="152.3" y1="1052.0" x2="152.3" y2="1385.0" stroke="#000" stroke-width="2" stroke-linecap="butt"/>
<line x1="142.8" y1="1052.3" x2="152.3" y2="1052.3" stroke="#000" stroke-width="2" stroke-linecap="butt"/>
<text x="125.0" y="1062.9" font-size="32" text-anchor="end">20</text>
<line x1="142.8" y1="1117.1" x2="152.3" y2="1117.1" stroke="#000" stroke-width="2" stroke-linecap="butt"/>
<text x="125.0" y="1127.7" font-size="32" text-anchor="end">0</text>
<line x1="142.8" y1="1181.9" x2="152.3" y2="1181.9" stroke="#000" stroke-width="2" stroke-linecap="butt"/>
<text x="125.0" y="1192.5" font-size="32" text-anchor="end">-20</text>
<line x1="142.8" y1="1246.7" x2="152.3" y2="1246.7" stroke="#000" stroke-width="2" stroke-linecap="butt"/>
<text x="125.0" y="1257.3" font-size="32" text-anchor="end">-40</text>
<line x1="142.8" y1="1311.5" x2="152.3" y2="1311.5" stroke="#000" stroke-width="2" stroke-linecap="butt"/>
<text x="125.0" y="1322.1" font-size="32" text-anchor="end">-60</text>
<line x1="142.8" y1="1376.3" x2="152.3" y2="1376.3" stroke="#000" stroke-width="2" stroke-linecap="butt"/>
<text x="125.0" y="1386.9" font-size="32" text-anchor="end">-80</text>
<line x1="142.8" y1="1375.5" x2="200.5" y2="1375.5" stroke="#000" stroke-width="2" stroke-linecap="butt"/>
<line x1="242.8" y1="1375.5" x2="556.6" y2="1375.5" stroke="#000" stroke-width="2" stroke-linecap="butt"/>
<line x1="186.2" y1="1375.5" x2="186.2" y2="1385.0" stroke="#000" stroke-width="2" stroke-linecap="butt"/>
<line x1="253.9" y1="1375.5" x2="253.9" y2="1385.0" stroke="#000" stroke-width="2" stroke-linecap="butt"/>
<line x1="287.6" y1="1375.5" x2="287.6" y2="1385.0" stroke="#000" stroke-width="2" stroke-linecap="butt"/>
<line x1="321.2" y1="1375.5" x2="321.2" y2="1385.0" stroke="#000" stroke-width="2" stroke-linecap="butt"/>
<line x1="354.8" y1="1375.5" x2="354.8" y2="1385.0" stroke="#000" stroke-width="2" stroke-linecap="butt"/>
<line x1="388.4" y1="1375.5" x2="388.4" y2="1385.0" stroke="#000" stroke-width="2" stroke-linecap="butt"/>
<line x1="422.1" y1="1375.5" x2="422.1" y2="1385.0" stroke="#000" stroke-width="2" stroke-linecap="butt"/>
<line x1="455.7" y1="1375.5" x2="455.7" y2="1385.0" stroke="#000" stroke-width="2" stroke-linecap="butt"/>
<line x1="489.3" y1="1375.5" x2="489.3" y2="1385.0" stroke="#000" stroke-width="2" stroke-linecap="butt"/>
<line x1="523.0" y1="1375.5" x2="523.0" y2="1385.0" stroke="#000" stroke-width="2" stroke-linecap="butt"/>
<line x1="556.6" y1="1375.5" x2="556.6" y2="1385.0" stroke="#000" stroke-width="2" stroke-linecap="butt"/>
<path d="M208.5 1358.5H202.5V1396.5H208.5" stroke="#000" stroke-width="3" fill="none"/>
<path d="M234.8 1358.5H240.8V1396.5H234.8" stroke="#000" stroke-width="3" fill="none"/>
<text x="181.3" y="1427.5" font-size="32" text-anchor="middle">-75</text>
<text x="245.7" y="1427.5" font-size="32" text-anchor="middle">-10</text>
<text x="323.1" y="1427.5" font-size="32" text-anchor="middle">0</text>
<text x="383.5" y="1427.5" font-size="32" text-anchor="middle">10</text>
<text x="452.9" y="1427.5" font-size="32" text-anchor="middle">20</text>
<text x="523.7" y="1427.5" font-size="32" text-anchor="middle">30</text>
<text x="349.0" y="1469.5" font-size="31.5" text-anchor="middle">Time (min)</text>
<text x="26.3" y="1223.4" font-size="31.5" text-anchor="middle" transform="rotate(-90 26.3 1223.4)">Percent change in</text>
<text x="65.5" y="1223.4" font-size="31.5" text-anchor="middle" transform="rotate(-90 65.5 1223.4)">burst minute activity (%)</text>
<line x1="322.3" y1="1057.0" x2="562.7" y2="1057.0" stroke="#000" stroke-width="4" stroke-linecap="butt"/>
<text x="442.5" y="1047.9" font-size="23.6" text-anchor="middle">Naloxone</text>
<text x="190.5" y="1064.4" font-size="23" text-anchor="middle">base-</text>
<text x="190.5" y="1088.6" font-size="23" text-anchor="middle">line</text>
<line x1="253.9" y1="1161.1" x2="253.9" y2="1192.7" stroke="#000" stroke-width="1.6" stroke-linecap="butt"/>
<line x1="253.9" y1="1198.0" x2="253.9" y2="1257.6" stroke="#000" stroke-width="1.6" stroke-linecap="butt"/>
<line x1="287.6" y1="1162.2" x2="287.6" y2="1191.4" stroke="#000" stroke-width="1.6" stroke-linecap="butt"/>
<line x1="287.6" y1="1198.4" x2="287.6" y2="1257.6" stroke="#000" stroke-width="1.6" stroke-linecap="butt"/>
<line x1="321.2" y1="1165.5" x2="321.2" y2="1197.6" stroke="#000" stroke-width="1.6" stroke-linecap="butt"/>
<line x1="321.2" y1="1201.6" x2="321.2" y2="1263.6" stroke="#000" stroke-width="1.6" stroke-linecap="butt"/>
<line x1="354.8" y1="1154.8" x2="354.8" y2="1185.1" stroke="#000" stroke-width="1.6" stroke-linecap="butt"/>
<line x1="354.8" y1="1210.0" x2="354.8" y2="1274.3" stroke="#000" stroke-width="1.6" stroke-linecap="butt"/>
<line x1="388.4" y1="1135.7" x2="388.4" y2="1165.5" stroke="#000" stroke-width="1.6" stroke-linecap="butt"/>
<line x1="388.4" y1="1215.4" x2="388.4" y2="1278.6" stroke="#000" stroke-width="1.6" stroke-linecap="butt"/>
<line x1="422.1" y1="1128.4" x2="422.1" y2="1173.1" stroke="#000" stroke-width="1.6" stroke-linecap="butt"/>
<line x1="422.1" y1="1214.8" x2="422.1" y2="1277.3" stroke="#000" stroke-width="1.6" stroke-linecap="butt"/>
<line x1="455.7" y1="1143.6" x2="455.7" y2="1186.4" stroke="#000" stroke-width="1.6" stroke-linecap="butt"/>
<line x1="455.7" y1="1224.9" x2="455.7" y2="1300.4" stroke="#000" stroke-width="1.6" stroke-linecap="butt"/>
<line x1="489.3" y1="1166.0" x2="489.3" y2="1205.3" stroke="#000" stroke-width="1.6" stroke-linecap="butt"/>
<line x1="489.3" y1="1227.6" x2="489.3" y2="1291.2" stroke="#000" stroke-width="1.6" stroke-linecap="butt"/>
<line x1="523.0" y1="1160.5" x2="523.0" y2="1231.4" stroke="#000" stroke-width="1.6" stroke-linecap="butt"/>
<line x1="523.0" y1="1244.3" x2="523.0" y2="1319.3" stroke="#000" stroke-width="1.6" stroke-linecap="butt"/>
<line x1="248.1" y1="1161.1" x2="259.8" y2="1161.1" stroke="#000" stroke-width="1.6" stroke-linecap="butt"/>
<line x1="248.1" y1="1257.6" x2="259.8" y2="1257.6" stroke="#000" stroke-width="1.6" stroke-linecap="butt"/>
<line x1="281.8" y1="1162.2" x2="293.4" y2="1162.2" stroke="#000" stroke-width="1.6" stroke-linecap="butt"/>
<line x1="281.8" y1="1257.6" x2="293.4" y2="1257.6" stroke="#000" stroke-width="1.6" stroke-linecap="butt"/>
<line x1="315.4" y1="1165.5" x2="327.0" y2="1165.5" stroke="#000" stroke-width="1.6" stroke-linecap="butt"/>
<line x1="315.4" y1="1263.6" x2="327.0" y2="1263.6" stroke="#000" stroke-width="1.6" stroke-linecap="butt"/>
<line x1="349.0" y1="1154.8" x2="360.6" y2="1154.8" stroke="#000" stroke-width="1.6" stroke-linecap="butt"/>
<line x1="349.0" y1="1274.3" x2="360.6" y2="1274.3" stroke="#000" stroke-width="1.6" stroke-linecap="butt"/>
<line x1="382.6" y1="1135.7" x2="394.2" y2="1135.7" stroke="#000" stroke-width="1.6" stroke-linecap="butt"/>
<line x1="382.6" y1="1278.6" x2="394.2" y2="1278.6" stroke="#000" stroke-width="1.6" stroke-linecap="butt"/>
<line x1="416.3" y1="1128.4" x2="427.9" y2="1128.4" stroke="#000" stroke-width="1.6" stroke-linecap="butt"/>
<line x1="416.3" y1="1277.3" x2="427.9" y2="1277.3" stroke="#000" stroke-width="1.6" stroke-linecap="butt"/>
<line x1="449.9" y1="1143.6" x2="461.5" y2="1143.6" stroke="#000" stroke-width="1.6" stroke-linecap="butt"/>
<line x1="449.9" y1="1300.4" x2="461.5" y2="1300.4" stroke="#000" stroke-width="1.6" stroke-linecap="butt"/>
<line x1="483.5" y1="1166.0" x2="495.1" y2="1166.0" stroke="#000" stroke-width="1.6" stroke-linecap="butt"/>
<line x1="483.5" y1="1291.2" x2="495.1" y2="1291.2" stroke="#000" stroke-width="1.6" stroke-linecap="butt"/>
<line x1="517.2" y1="1160.5" x2="528.8" y2="1160.5" stroke="#000" stroke-width="1.6" stroke-linecap="butt"/>
<line x1="517.2" y1="1319.3" x2="528.8" y2="1319.3" stroke="#000" stroke-width="1.6" stroke-linecap="butt"/>
<polyline points="253.9,1198.0 287.6,1198.4 321.2,1201.6 354.8,1210.0 388.4,1215.4 422.1,1214.8 455.7,1224.9 489.3,1227.6 523.0,1244.3" fill="none" stroke="#000" stroke-width="1.5"/>
<polyline points="253.9,1192.7 287.6,1191.4 321.2,1197.6 354.8,1185.1 388.4,1165.5 422.1,1173.1 455.7,1186.4 489.3,1205.3 523.0,1231.4" fill="none" stroke="#000" stroke-width="1.5"/>
<rect x="246.4" y="1190.5" width="15.0" height="15.0" fill="#fff" stroke="#000" stroke-width="1.6"/>
<rect x="280.1" y="1190.9" width="15.0" height="15.0" fill="#fff" stroke="#000" stroke-width="1.6"/>
<rect x="313.7" y="1194.1" width="15.0" height="15.0" fill="#fff" stroke="#000" stroke-width="1.6"/>
<rect x="347.3" y="1202.5" width="15.0" height="15.0" fill="#fff" stroke="#000" stroke-width="1.6"/>
<rect x="380.9" y="1207.9" width="15.0" height="15.0" fill="#fff" stroke="#000" stroke-width="1.6"/>
<rect x="414.6" y="1207.3" width="15.0" height="15.0" fill="#fff" stroke="#000" stroke-width="1.6"/>
<rect x="448.2" y="1217.4" width="15.0" height="15.0" fill="#fff" stroke="#000" stroke-width="1.6"/>
<rect x="481.8" y="1220.1" width="15.0" height="15.0" fill="#fff" stroke="#000" stroke-width="1.6"/>
<rect x="515.5" y="1236.8" width="15.0" height="15.0" fill="#fff" stroke="#000" stroke-width="1.6"/>
<rect x="178.9" y="1110.0" width="15" height="15" fill="#fff" stroke="#000" stroke-width="1.6"/>
<circle cx="186.4" cy="1117.5" r="8.9" fill="#000"/>
<circle cx="253.9" cy="1192.7" r="8.9" fill="#000"/>
<circle cx="287.6" cy="1191.4" r="8.9" fill="#000"/>
<circle cx="321.2" cy="1197.6" r="8.9" fill="#000"/>
<circle cx="354.8" cy="1185.1" r="8.9" fill="#000"/>
<circle cx="388.4" cy="1165.5" r="8.9" fill="#000"/>
<circle cx="422.1" cy="1173.1" r="8.9" fill="#000"/>
<circle cx="455.7" cy="1186.4" r="8.9" fill="#000"/>
<circle cx="489.3" cy="1205.3" r="8.9" fill="#000"/>
<circle cx="523.0" cy="1231.4" r="8.9" fill="#000"/>
<path d="M249.40 497.80L268.00 497.80M249.40 506.50L268.00 506.50M257.10 488.20L251.40 515.90M266.00 488.20L260.30 515.90" stroke="#000" stroke-width="2.2" stroke-linecap="round" fill="none"/>
<path d="M283.40 506.70L302.00 506.70M283.40 515.40L302.00 515.40M291.10 497.10L285.40 524.80M300.00 497.10L294.30 524.80" stroke="#000" stroke-width="2.2" stroke-linecap="round" fill="none"/>
<path d="M317.40 521.80L336.00 521.80M317.40 530.50L336.00 530.50M325.10 512.20L319.40 539.90M334.00 512.20L328.30 539.90" stroke="#000" stroke-width="2.2" stroke-linecap="round" fill="none"/>
<path d="M351.50 540.00L370.10 540.00M351.50 548.70L370.10 548.70M359.20 530.40L353.50 558.10M368.10 530.40L362.40 558.10" stroke="#000" stroke-width="2.2" stroke-linecap="round" fill="none"/>
<path d="M385.40 568.80L404.00 568.80M385.40 577.50L404.00 577.50M393.10 559.20L387.40 586.90M402.00 559.20L396.30 586.90" stroke="#000" stroke-width="2.2" stroke-linecap="round" fill="none"/>
<path d="M893.44 798.82L909.77 798.82M893.44 806.37L909.77 806.37M900.20 790.49L895.20 814.52M908.02 790.49L903.01 814.52" stroke="#000" stroke-width="2.0" stroke-linecap="round" fill="none"/>
<path d="M927.24 783.52L943.57 783.52M927.24 791.07L943.57 791.07M934.00 775.19L929.00 799.22M941.82 775.19L936.81 799.22" stroke="#000" stroke-width="2.0" stroke-linecap="round" fill="none"/>
<path d="M959.64 787.02L975.97 787.02M959.64 794.57L975.97 794.57M966.40 778.69L961.40 802.72M974.22 778.69L969.21 802.72" stroke="#000" stroke-width="2.0" stroke-linecap="round" fill="none"/>
<path d="M1027.44 552.32L1043.77 552.32M1027.44 559.87L1043.77 559.87M1034.20 543.99L1029.20 568.02M1042.02 543.99L1037.01 568.02" stroke="#000" stroke-width="2.0" stroke-linecap="round" fill="none"/>
<path d="M1062.54 503.82L1078.87 503.82M1062.54 511.37L1078.87 511.37M1069.30 495.49L1064.30 519.52M1077.12 495.49L1072.11 519.52" stroke="#000" stroke-width="2.0" stroke-linecap="round" fill="none"/>
<path d="M1095.64 495.62L1111.97 495.62M1095.64 503.17L1111.97 503.17M1102.40 487.29L1097.40 511.32M1110.22 487.29L1105.21 511.32" stroke="#000" stroke-width="2.0" stroke-linecap="round" fill="none"/>
<path d="M1129.24 530.62L1145.57 530.62M1129.24 538.17L1145.57 538.17M1136.00 522.29L1131.00 546.32M1143.82 522.29L1138.81 546.32" stroke="#000" stroke-width="2.0" stroke-linecap="round" fill="none"/>
<path d="M1162.34 523.52L1178.67 523.52M1162.34 531.07L1178.67 531.07M1169.10 515.19L1164.10 539.22M1176.92 515.19L1171.91 539.22" stroke="#000" stroke-width="2.0" stroke-linecap="round" fill="none"/>
<path d="M549.5 694.3C548.5 691 547.1 689 547.2 687C547.3 684.6 551.7 684.6 551.8 687C551.9 689 550.5 691 549.5 694.3ZM549.5 694.4C546.5 693.4 544.5 692.3 543 692.3C540.5 692.3 540.5 696.6 543 696.6C544.5 696.6 546.5 695.4 549.5 694.4ZM549.5 694.4C552.5 693.4 554.5 692.3 556 692.3C558.5 692.3 558.5 696.6 556 696.6C554.5 696.6 552.5 695.4 549.5 694.4ZM549.5 694.8C549 697 547.2 698.5 547.2 700C547.2 702 548.3 705 548.6 710L549.1 721.8H549.9L550.4 710C550.7 705 551.8 702 551.8 700C551.8 698.5 550 697 549.5 694.8Z" fill="#000"/>
<text transform="translate(11.6 83.8) scale(1.065 1.03)" font-size="46" font-weight="bold">A</text>
<text transform="translate(6.7 497.7) scale(1.0 1.053)" font-size="46" font-weight="bold">B</text>
<text transform="translate(653.6 498.0) scale(0.98 1.09)" font-size="46" font-weight="bold">C</text>
<text transform="translate(4.3 1016.6) scale(0.98 1.053)" font-size="46" font-weight="bold">D</text>
<rect x="610.1" y="1010.1" width="527.3" height="130.1" fill="none" stroke="#000" stroke-width="3.8"/>
<rect x="627" y="1027" width="19.8" height="19.8" fill="#fff" stroke="#000" stroke-width="2.1"/>
<circle cx="636.8" cy="1077.1" r="12.1" fill="#000"/>
<text x="661.0" y="1046.0" font-size="29" text-anchor="start">Time control (n=14)</text>
<text x="659.6" y="1087.5" font-size="29" text-anchor="start">DAMGO 200 nM&#160;&#160;/ Naloxone 1.0 µM</text>
<text x="659.6" y="1122.5" font-size="29" text-anchor="start">(n=6)</text>
</svg>
</body></html>
